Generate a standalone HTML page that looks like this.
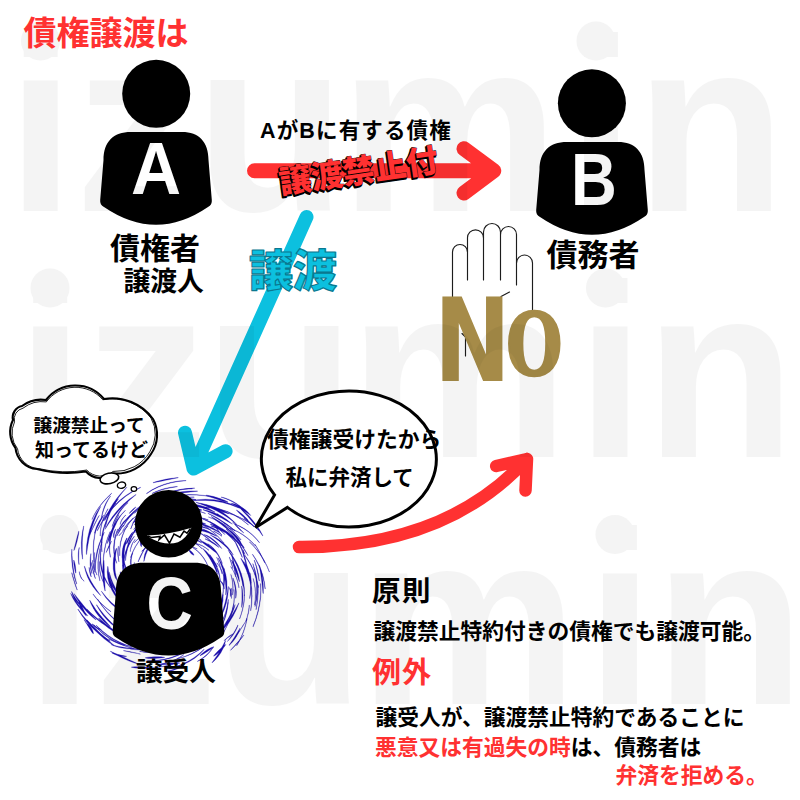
<!DOCTYPE html>
<html lang="ja">
<head>
<meta charset="utf-8">
<title>債権譲渡</title>
<style>
html,body{margin:0;padding:0;background:#fff;}
body{width:800px;height:800px;overflow:hidden;position:relative;}
svg{position:absolute;left:0;top:0;display:block;}
.jp{font-family:"Liberation Sans","Noto Sans CJK JP",sans-serif;}
.wm{font-family:"Liberation Sans",sans-serif;font-weight:700;font-size:247px;fill:#000;}
.b{font-weight:700;}
.red{fill:#ff3131;}
</style>
</head>
<body>
<svg width="800" height="800" viewBox="0 0 800 800" class="jp">
<defs>
<path id="body" d="M131,132 L182,132 C199,132 208.5,142 208.5,160 L211.8,200 Q212.3,205 208,207 Q156,242.5 104,207 Q99.7,205 100.2,200 L103.5,160 C103.5,142 113,132 131,132 Z"/>
</defs>
<rect width="800" height="800" fill="#ffffff"/>
<g id="swirl" fill="#1a0dab" stroke="#1a0dab" stroke-width="0.3" stroke-linejoin="round">
<path d="M100.7,548.7L99.9,556.1L100.2,563.3L101.4,570.2L103.5,576.7L106.6,582.6L110.4,587.8L110.6,587.7L107.2,582.2L104.4,576.3L102.3,570.0L101.1,563.2L100.6,556.1L101.0,548.7ZM99.1,515.4L97.5,518.3L95.9,521.3L94.3,524.5L92.7,527.9L91.1,531.3L89.5,534.9L89.7,535.0L91.4,531.4L93.0,528.0L94.6,524.7L96.2,521.5L97.7,518.4L99.3,515.5ZM111.5,493.3L107.1,497.5L103.1,501.8L99.6,506.2L96.6,510.6L94.0,515.0L91.9,519.4L92.1,519.5L94.2,515.1L96.8,510.7L99.9,506.3L103.4,502.0L107.3,497.7L111.7,493.4ZM197.2,548.8L193.8,547.2L190.3,546.1L186.8,545.5L183.2,545.5L179.7,546.0L176.4,547.0L176.5,547.3L179.8,546.5L183.2,546.1L186.7,546.1L190.2,546.6L193.7,547.6L197.1,549.0ZM119.8,516.5L116.9,520.7L114.5,525.1L112.6,529.5L111.2,534.0L110.2,538.4L109.7,542.8L109.9,542.9L110.7,538.5L111.9,534.2L113.4,529.8L115.2,525.4L117.4,521.0L120.0,516.6ZM241.0,542.7L239.9,540.4L238.5,538.3L236.8,536.2L234.8,534.2L232.6,532.3L230.2,530.6L230.0,530.8L231.8,533.1L233.7,535.3L235.5,537.3L237.3,539.3L239.0,541.1L240.8,542.8ZM173.4,532.7L170.2,533.3L167.0,534.0L163.8,534.9L160.7,535.8L157.6,536.8L154.7,537.8L154.7,538.0L157.8,537.3L160.9,536.5L164.0,535.6L167.2,534.7L170.3,533.8L173.5,532.9ZM151.5,510.1L147.8,512.3L144.4,514.6L141.3,517.0L138.6,519.6L136.3,522.2L134.3,524.9L134.5,525.0L136.5,522.4L138.9,519.9L141.6,517.3L144.6,514.9L147.9,512.5L151.6,510.3ZM146.6,613.6L152.4,614.4L158.0,614.5L163.1,613.9L167.7,612.6L171.8,610.8L175.1,608.6L175.0,608.4L171.7,610.6L167.7,612.3L163.1,613.6L157.9,614.2L152.4,614.2L146.6,613.4ZM135.3,582.4L136.9,584.9L138.6,587.0L140.5,588.9L142.6,590.3L144.7,591.4L146.9,592.2L146.9,592.0L144.8,591.2L142.8,590.0L140.8,588.6L138.9,586.8L137.1,584.7L135.5,582.3ZM185.5,643.1L188.8,641.4L191.7,639.6L194.4,637.7L196.9,635.8L199.2,633.9L201.1,631.8L201.0,631.6L198.5,632.9L196.0,634.5L193.4,636.3L190.8,638.3L188.1,640.5L185.4,642.9ZM183.0,607.8L186.8,604.7L189.8,601.2L191.9,597.6L193.2,593.9L193.4,590.4L192.8,587.2L192.6,587.3L192.7,590.4L192.3,593.7L191.0,597.2L189.1,600.7L186.3,604.2L182.8,607.6ZM166.1,630.7L171.7,629.6L177.1,627.8L182.2,625.3L186.8,622.2L190.9,618.4L194.6,614.2L194.4,614.1L190.7,618.1L186.5,621.7L181.9,624.8L176.9,627.3L171.6,629.2L166.0,630.4ZM132.0,533.1L130.8,534.4L129.8,535.9L128.8,537.6L127.9,539.6L127.1,541.7L126.5,544.1L126.7,544.1L127.8,542.0L128.8,540.0L129.7,538.1L130.6,536.4L131.4,534.8L132.2,533.2ZM101.8,541.7L99.9,548.6L98.6,555.4L97.9,562.1L97.9,568.6L98.6,574.9L99.8,580.8L100.0,580.8L98.8,574.8L98.3,568.6L98.3,562.1L98.9,555.4L100.2,548.6L102.1,541.8ZM156.3,495.1L153.4,496.3L150.5,497.8L147.6,499.6L144.8,501.7L142.0,504.2L139.3,506.9L139.5,507.0L142.5,504.7L145.4,502.5L148.2,500.4L151.0,498.6L153.7,496.9L156.4,495.3ZM84.0,619.8L85.4,622.1L86.9,624.3L88.3,626.5L89.7,628.8L91.2,631.0L92.6,633.2L92.8,633.1L91.5,630.8L90.2,628.5L88.8,626.2L87.3,624.0L85.8,621.8L84.2,619.7ZM195.9,522.2L191.1,521.1L186.5,520.5L182.0,520.6L177.7,521.3L173.7,522.5L169.9,524.3L170.0,524.5L173.7,522.8L177.8,521.7L182.0,521.0L186.4,520.9L191.1,521.3L195.8,522.4ZM120.1,581.3L122.2,585.5L124.5,589.6L127.0,593.5L129.8,597.0L132.8,600.4L135.8,603.5L135.9,603.3L132.9,600.2L130.0,596.9L127.3,593.3L124.7,589.5L122.3,585.4L120.3,581.2ZM224.8,580.7L224.3,577.7L223.4,574.7L222.3,571.7L220.8,568.7L219.0,565.7L217.0,562.8L216.8,562.9L218.9,565.8L220.6,568.8L222.0,571.8L223.2,574.8L224.1,577.7L224.6,580.7ZM245.9,562.1L245.4,559.8L244.8,557.6L244.3,555.5L243.9,553.6L243.5,551.7L243.1,549.9L242.8,550.0L242.9,551.8L243.2,553.7L243.6,555.7L244.1,557.8L244.8,560.0L245.7,562.2ZM224.2,640.7L225.8,639.4L227.4,638.1L229.0,636.9L230.6,635.8L232.2,634.8L233.7,633.9L233.6,633.7L232.0,634.4L230.3,635.3L228.7,636.4L227.1,637.7L225.6,639.0L224.1,640.6ZM145.0,548.0L143.4,550.5L141.9,553.0L140.6,555.4L139.6,557.7L138.7,559.9L138.0,561.8L138.2,561.9L139.1,560.0L140.1,558.0L141.2,555.7L142.4,553.3L143.7,550.7L145.2,548.1ZM119.5,628.2L121.5,629.3L123.7,630.3L125.9,631.2L128.2,632.0L130.6,632.8L133.2,633.4L133.3,633.2L131.0,632.0L128.6,630.9L126.3,630.0L124.1,629.1L121.9,628.4L119.6,627.9ZM228.7,513.5L224.3,511.1L219.9,509.1L215.3,507.3L210.7,505.8L206.1,504.5L201.5,503.6L201.4,503.8L205.8,505.6L210.2,507.2L214.7,508.9L219.3,510.5L223.9,512.2L228.6,513.7ZM200.3,590.0L200.9,588.7L201.5,587.5L202.1,586.4L202.8,585.3L203.5,584.2L204.2,583.2L204.0,583.1L203.1,584.0L202.3,584.9L201.6,586.1L201.0,587.3L200.5,588.5L200.1,589.9ZM162.5,507.3L157.3,508.8L152.4,510.8L147.9,513.3L143.7,516.3L140.0,519.6L136.8,523.3L137.0,523.4L140.8,520.4L144.7,517.5L148.8,514.8L153.1,512.2L157.7,509.8L162.5,507.6ZM140.5,645.2L142.7,646.2L144.8,647.0L146.8,647.7L148.7,648.4L150.5,648.9L152.3,649.4L152.4,649.2L150.8,648.1L149.1,647.2L147.2,646.5L145.2,645.8L143.0,645.3L140.6,645.0ZM236.8,524.4L233.7,521.2L230.3,518.2L226.6,515.3L222.7,512.6L218.6,510.1L214.2,507.7L214.1,507.9L218.2,510.7L222.2,513.4L226.0,516.1L229.7,518.9L233.2,521.7L236.6,524.5ZM77.8,609.2L82.1,616.0L87.0,622.3L92.3,628.0L97.9,633.1L103.9,637.5L110.1,641.3L110.2,641.1L104.4,636.8L98.7,632.2L93.2,627.0L87.9,621.5L82.8,615.5L78.0,609.1ZM197.5,661.4L200.5,659.9L203.4,658.0L206.0,655.9L208.5,653.6L210.7,651.0L212.7,648.2L212.5,648.0L210.4,650.7L208.1,653.2L205.6,655.5L203.1,657.6L200.3,659.5L197.4,661.2ZM222.0,535.0L220.7,533.6L219.5,532.0L218.3,530.4L217.2,528.8L216.1,527.1L215.1,525.3L214.8,525.4L215.7,527.3L216.7,529.1L217.8,530.8L219.1,532.4L220.4,533.8L221.8,535.2ZM235.5,542.1L231.0,536.7L225.9,531.9L220.5,527.7L214.7,524.1L208.7,521.1L202.6,518.8L202.5,519.0L208.4,521.7L214.2,524.9L219.9,528.5L225.3,532.6L230.5,537.2L235.3,542.3ZM78.8,602.2L79.4,604.7L80.3,607.1L81.5,609.4L82.9,611.8L84.4,614.0L86.3,616.1L86.5,616.0L85.4,613.4L84.2,611.0L83.0,608.6L81.7,606.4L80.4,604.2L79.0,602.1ZM131.3,623.2L136.2,625.4L141.2,626.8L146.1,627.7L150.9,627.9L155.3,627.6L159.5,626.6L159.4,626.4L155.2,626.7L150.9,626.7L146.3,626.4L141.5,625.6L136.5,624.5L131.3,623.0ZM186.8,543.0L184.9,542.3L183.2,541.5L181.6,540.8L180.1,540.0L178.8,539.3L177.7,538.5L177.6,538.7L178.7,539.5L180.0,540.3L181.4,541.0L183.1,541.8L184.8,542.5L186.7,543.2ZM122.5,564.7L122.7,569.1L123.4,573.2L124.5,577.1L126.1,580.7L128.1,584.0L130.5,586.9L130.7,586.7L128.3,583.8L126.3,580.6L124.8,577.0L123.6,573.2L122.9,569.1L122.8,564.7ZM201.4,641.0L203.0,640.0L204.4,638.6L205.5,637.1L206.3,635.4L206.8,633.5L206.9,631.6L206.7,631.5L205.9,633.3L205.2,634.9L204.4,636.5L203.5,637.9L202.4,639.4L201.2,640.8ZM255.3,545.6L251.5,541.5L247.4,537.9L243.1,534.7L238.6,532.0L234.0,529.8L229.3,528.0L229.2,528.2L233.9,530.0L238.5,532.3L242.9,535.0L247.2,538.2L251.3,541.7L255.1,545.7ZM236.8,645.7L239.3,641.2L241.6,636.6L243.5,632.1L245.0,627.5L246.2,622.9L247.1,618.4L246.8,618.3L246.0,622.9L244.7,627.4L243.2,632.0L241.3,636.5L239.1,641.1L236.6,645.5ZM259.5,542.5L256.2,538.5L252.5,534.8L248.6,531.5L244.3,528.6L239.8,526.1L235.0,524.0L234.9,524.2L239.6,526.4L244.1,528.9L248.3,531.8L252.3,535.1L256.0,538.7L259.3,542.7ZM235.0,638.4L236.9,635.3L238.9,632.3L240.9,629.1L242.9,626.0L244.9,622.8L247.0,619.6L246.8,619.5L244.8,622.7L242.7,625.8L240.7,629.0L238.7,632.1L236.7,635.2L234.8,638.3ZM112.2,653.2L114.6,654.3L117.0,655.2L119.4,655.8L121.7,656.3L124.1,656.5L126.5,656.4L126.5,656.2L124.2,655.8L121.9,655.3L119.6,654.8L117.2,654.3L114.8,653.6L112.3,652.9ZM131.0,567.2L131.7,571.3L132.7,575.1L134.1,578.6L135.7,581.7L137.6,584.5L139.6,586.8L139.7,586.7L138.0,584.2L136.4,581.4L134.8,578.3L133.4,574.8L132.2,571.1L131.3,567.1ZM136.0,494.4L129.2,499.2L123.0,504.6L117.4,510.4L112.5,516.5L108.3,522.8L104.9,529.2L105.1,529.3L109.0,523.3L113.4,517.2L118.4,511.3L123.8,505.5L129.8,499.9L136.2,494.6ZM149.6,648.8L156.3,648.6L162.8,647.9L169.0,646.7L174.9,645.0L180.4,643.0L185.5,640.6L185.4,640.3L180.2,642.3L174.6,644.1L168.8,645.7L162.6,647.0L156.2,648.0L149.6,648.6ZM140.4,523.1L135.7,528.6L131.9,534.6L128.9,541.0L126.9,547.5L125.7,554.1L125.3,560.5L125.6,560.6L126.4,554.2L127.8,547.7L129.9,541.3L132.7,535.0L136.3,529.0L140.6,523.2ZM78.7,531.3L77.8,534.6L76.9,537.8L76.1,541.0L75.3,544.2L74.5,547.3L73.8,550.4L74.0,550.5L75.2,547.5L76.2,544.4L77.1,541.3L77.8,538.1L78.5,534.8L79.0,531.4ZM244.5,595.9L244.4,588.1L243.2,580.4L241.1,572.9L238.1,565.6L234.3,558.8L229.7,552.4L229.5,552.5L233.7,559.1L237.3,566.0L240.2,573.2L242.3,580.6L243.7,588.2L244.3,595.9ZM217.1,553.1L214.4,550.0L211.6,547.4L208.7,545.1L205.8,543.1L202.9,541.5L200.1,540.4L200.0,540.6L202.3,542.5L204.9,544.4L207.7,546.4L210.6,548.6L213.6,550.9L216.9,553.3ZM221.1,627.3L223.3,623.1L225.0,618.7L226.4,614.0L227.4,609.3L228.1,604.4L228.4,599.5L228.1,599.5L227.6,604.3L226.7,609.1L225.7,613.8L224.3,618.4L222.8,622.9L220.9,627.2ZM239.1,587.8L238.5,584.4L237.6,580.8L236.4,577.3L234.9,573.7L233.0,570.2L230.9,566.6L230.7,566.7L232.9,570.3L234.7,573.9L236.2,577.4L237.4,580.9L238.3,584.4L238.9,587.8ZM161.6,608.3L165.4,608.4L169.0,608.1L172.2,607.5L175.2,606.5L177.8,605.2L179.9,603.6L179.7,603.4L177.5,604.7L174.9,605.8L172.0,606.7L168.9,607.4L165.4,607.9L161.6,608.0ZM120.1,571.9L120.3,574.4L120.8,576.8L121.7,579.0L123.0,580.9L124.5,582.5L126.4,583.8L126.5,583.6L125.0,582.0L123.7,580.3L122.6,578.5L121.7,576.5L121.0,574.3L120.4,571.8ZM106.4,520.4L104.3,525.6L102.7,530.9L101.7,536.2L101.2,541.5L101.3,546.7L101.8,551.8L102.1,551.8L101.9,546.7L102.1,541.6L102.7,536.4L103.6,531.1L104.9,525.8L106.6,520.5ZM228.0,502.0L224.7,500.3L221.1,498.9L217.5,497.7L213.8,496.6L210.0,495.7L206.1,495.1L206.1,495.3L209.7,496.8L213.4,498.1L217.0,499.3L220.6,500.4L224.3,501.4L228.0,502.2ZM232.5,523.9L229.7,522.2L227.0,520.4L224.5,518.7L222.0,517.0L219.6,515.4L217.4,513.8L217.2,514.0L219.5,515.6L221.8,517.3L224.3,519.0L226.8,520.7L229.5,522.4L232.3,524.1ZM160.3,517.9L157.4,518.3L154.6,519.2L152.1,520.4L150.0,521.8L148.1,523.5L146.7,525.5L146.9,525.6L148.9,524.4L150.9,523.1L153.0,521.9L155.3,520.6L157.8,519.4L160.4,518.1ZM194.2,497.0L191.6,496.9L189.2,497.1L187.0,497.5L184.9,498.3L183.0,499.3L181.3,500.6L181.4,500.8L183.2,499.7L185.1,498.8L187.1,498.1L189.3,497.6L191.7,497.3L194.2,497.2ZM120.8,573.3L121.9,578.4L123.8,583.2L126.3,587.8L129.5,592.0L133.1,595.8L137.3,599.1L137.4,598.9L133.8,595.2L130.4,591.2L127.4,587.1L124.8,582.7L122.7,578.1L121.0,573.3ZM243.3,586.2L242.3,579.5L240.7,573.0L238.4,566.8L235.6,560.9L232.2,555.3L228.3,550.2L228.2,550.3L231.6,555.7L234.7,561.3L237.5,567.2L239.8,573.3L241.7,579.7L243.0,586.2ZM191.6,616.8L193.4,615.5L195.0,613.9L196.3,612.0L197.2,609.9L197.8,607.5L198.0,605.0L197.8,605.0L197.0,607.3L196.1,609.5L195.1,611.4L194.0,613.2L192.8,614.9L191.4,616.6ZM178.2,477.5L173.9,478.0L169.6,478.6L165.4,479.3L161.2,480.3L157.1,481.3L153.1,482.5L153.1,482.8L157.2,482.0L161.4,481.2L165.6,480.3L169.8,479.5L174.0,478.6L178.2,477.8ZM123.5,525.0L122.1,526.5L120.8,528.2L119.6,530.0L118.5,531.9L117.5,533.9L116.5,536.1L116.8,536.2L117.9,534.2L119.1,532.3L120.3,530.4L121.4,528.6L122.5,526.9L123.7,525.2ZM192.8,640.0L195.1,638.3L197.3,636.4L199.3,634.3L201.1,632.0L202.8,629.4L204.3,626.7L204.1,626.6L202.6,629.3L200.9,631.8L199.1,634.1L197.1,636.2L195.0,638.1L192.7,639.8ZM248.4,524.7L241.8,519.4L234.9,515.1L227.7,511.6L220.4,509.2L212.9,507.6L205.5,507.0L205.5,507.2L212.9,507.9L220.3,509.5L227.6,512.0L234.7,515.4L241.7,519.7L248.3,524.9ZM186.1,480.5L178.5,481.0L171.3,482.3L164.4,484.2L157.9,486.7L151.9,489.8L146.4,493.5L146.6,493.7L152.1,490.2L158.1,487.2L164.5,484.7L171.4,482.8L178.6,481.4L186.1,480.7ZM93.7,624.7L98.2,629.6L103.1,634.0L108.2,637.7L113.5,640.9L118.9,643.4L124.5,645.3L124.6,645.1L119.1,643.0L113.7,640.4L108.5,637.2L103.4,633.5L98.5,629.3L93.8,624.6ZM248.3,520.5L246.8,518.6L245.0,516.8L243.2,515.0L241.1,513.3L238.9,511.6L236.5,509.9L236.3,510.1L238.3,512.2L240.3,514.2L242.3,516.0L244.2,517.7L246.2,519.3L248.1,520.7ZM198.2,637.9L200.1,636.6L202.0,635.3L203.7,633.9L205.4,632.6L207.1,631.2L208.7,629.8L208.6,629.6L206.8,630.8L205.0,632.0L203.2,633.3L201.5,634.7L199.8,636.1L198.1,637.7ZM258.6,587.6L257.4,581.6L255.7,575.7L253.6,570.1L251.1,564.8L248.1,559.8L244.8,555.1L244.6,555.3L247.7,560.0L250.6,565.0L253.1,570.3L255.2,575.9L257.0,581.7L258.4,587.7ZM259.3,581.0L258.9,577.3L258.4,573.8L257.6,570.2L256.7,566.8L255.6,563.4L254.4,560.1L254.2,560.2L255.2,563.5L256.2,566.9L257.0,570.4L257.8,573.9L258.5,577.4L259.1,581.0ZM269.5,571.9L267.0,565.9L264.1,560.3L260.9,555.0L257.3,550.2L253.5,545.8L249.5,541.8L249.4,541.9L253.4,545.9L257.1,550.4L260.6,555.2L263.8,560.4L266.8,566.0L269.3,572.0ZM71.8,549.3L71.5,555.4L71.8,561.4L72.4,567.3L73.4,573.1L74.8,578.7L76.6,584.1L76.8,584.0L75.3,578.5L74.1,572.9L73.2,567.2L72.5,561.3L72.1,555.4L72.0,549.3ZM114.7,635.0L118.2,636.8L122.0,638.3L126.0,639.6L130.1,640.7L134.4,641.6L138.8,642.3L138.9,642.1L134.5,641.0L130.3,639.8L126.3,638.7L122.3,637.4L118.5,636.1L114.8,634.8ZM107.9,508.8L105.6,513.0L103.6,517.4L102.1,521.9L101.0,526.5L100.3,531.2L100.0,536.0L100.3,536.0L100.5,531.2L101.3,526.5L102.4,521.9L103.9,517.5L105.8,513.1L108.1,508.9ZM209.8,572.1L208.5,567.2L206.5,562.4L203.9,558.0L200.8,554.1L197.2,550.6L193.2,547.7L193.1,547.9L197.0,550.8L200.5,554.3L203.6,558.3L206.2,562.6L208.2,567.2L209.6,572.2ZM240.6,545.8L236.8,540.4L232.3,535.8L227.4,531.8L222.0,528.4L216.3,525.8L210.3,524.1L210.2,524.3L215.8,526.9L221.2,529.8L226.4,533.2L231.3,537.0L236.0,541.2L240.4,545.9ZM133.5,595.0L134.9,596.2L136.3,597.1L137.9,597.8L139.5,598.2L141.1,598.4L142.7,598.3L142.7,598.1L141.1,598.0L139.6,597.7L138.1,597.2L136.6,596.6L135.1,595.8L133.6,594.8ZM133.1,513.0L129.5,515.8L126.2,518.9L123.3,522.1L120.8,525.5L118.7,529.1L117.1,532.7L117.3,532.8L119.3,529.4L121.6,526.1L124.1,522.8L126.9,519.5L129.9,516.3L133.2,513.1ZM227.4,641.6L230.0,638.8L232.3,636.1L234.2,633.3L235.8,630.5L237.1,627.8L238.0,625.2L237.8,625.1L236.6,627.6L235.2,630.2L233.6,632.9L231.7,635.6L229.6,638.5L227.3,641.5ZM111.0,644.6L114.6,646.1L118.4,647.3L122.3,648.1L126.2,648.6L130.2,648.7L134.3,648.4L134.3,648.2L130.3,648.0L126.3,647.7L122.4,647.1L118.6,646.4L114.8,645.5L111.0,644.4ZM173.1,635.5L180.0,633.3L186.4,630.4L192.4,626.9L197.7,622.9L202.5,618.6L206.4,614.1L206.3,613.9L201.8,618.0L197.0,622.0L191.7,625.8L185.9,629.3L179.6,632.5L173.1,635.3ZM205.6,589.4L206.1,587.0L206.1,584.6L205.8,582.0L205.0,579.4L204.0,576.8L202.5,574.3L202.3,574.4L203.3,577.1L204.2,579.7L204.8,582.2L205.2,584.6L205.4,587.0L205.4,589.4ZM171.2,514.4L164.5,515.5L158.1,517.2L152.1,519.6L146.5,522.5L141.6,526.0L137.1,529.9L137.3,530.1L141.7,526.3L146.7,522.9L152.3,520.0L158.2,517.6L164.6,515.8L171.3,514.7ZM187.4,646.2L191.1,644.4L194.7,642.3L198.1,640.1L201.4,637.7L204.4,635.2L207.3,632.5L207.1,632.3L203.7,634.2L200.4,636.4L197.1,638.7L193.8,641.0L190.5,643.4L187.3,646.0ZM200.9,510.6L193.7,509.8L186.6,509.8L179.7,510.4L173.2,511.7L167.0,513.6L161.3,515.9L161.4,516.2L167.2,514.1L173.3,512.4L179.8,511.2L186.6,510.5L193.6,510.4L200.9,510.8ZM130.3,649.1L136.0,649.8L141.6,650.0L147.1,649.8L152.4,649.2L157.6,648.1L162.5,646.7L162.4,646.4L157.5,647.8L152.4,648.8L147.1,649.4L141.6,649.7L136.0,649.5L130.3,648.8ZM201.8,542.9L200.6,541.7L199.2,540.8L197.8,540.1L196.3,539.6L194.9,539.4L193.4,539.5L193.4,539.7L194.8,540.1L196.1,540.5L197.4,541.0L198.8,541.6L200.2,542.3L201.7,543.1ZM202.0,510.0L200.2,509.2L198.4,508.8L196.6,508.5L194.9,508.4L193.2,508.6L191.5,509.1L191.5,509.3L193.2,509.5L194.8,509.6L196.5,509.8L198.2,509.9L200.0,510.1L201.9,510.2ZM175.7,500.9L171.7,502.0L167.8,503.5L164.0,505.2L160.4,507.2L156.8,509.4L153.4,511.9L153.6,512.1L157.0,509.7L160.6,507.5L164.2,505.5L168.0,503.8L171.8,502.3L175.8,501.1ZM219.3,619.7L222.2,614.4L224.5,608.9L226.3,603.2L227.5,597.6L228.2,592.0L228.4,586.5L228.2,586.5L227.4,591.9L226.3,597.3L225.0,602.9L223.3,608.5L221.3,614.0L219.1,619.6ZM116.9,612.4L123.2,616.1L129.6,619.1L135.9,621.2L142.0,622.5L147.8,623.1L153.1,623.1L153.1,622.8L147.8,622.9L142.1,622.2L136.0,620.8L129.7,618.7L123.4,615.9L117.0,612.2ZM152.6,542.4L149.9,544.9L147.7,547.8L146.0,550.9L144.7,554.3L144.0,557.8L143.8,561.4L144.0,561.4L144.9,558.0L145.9,554.7L147.2,551.5L148.7,548.4L150.6,545.5L152.7,542.6ZM209.6,509.0L204.5,506.8L199.3,505.2L193.9,504.3L188.5,504.1L183.2,504.4L177.9,505.6L178.0,505.8L183.3,505.6L188.5,505.6L193.8,506.0L199.0,506.8L204.2,507.9L209.5,509.2ZM191.8,609.5L194.1,608.1L196.2,606.3L198.2,604.1L200.1,601.6L201.9,598.8L203.3,595.7L203.1,595.6L200.9,598.2L198.9,600.7L196.9,603.0L195.1,605.2L193.3,607.3L191.6,609.3ZM187.7,499.8L185.3,499.2L182.7,498.8L179.9,498.5L177.1,498.3L174.1,498.2L171.0,498.4L171.0,498.6L174.0,499.1L177.0,499.5L179.8,499.8L182.6,500.0L185.2,500.1L187.7,500.0ZM147.7,544.9L146.6,546.1L145.5,547.2L144.5,548.3L143.6,549.3L142.6,550.3L141.7,551.3L141.9,551.5L143.0,550.7L144.1,549.8L145.1,548.8L146.1,547.7L147.0,546.4L147.9,545.1ZM177.3,486.4L172.7,486.9L168.3,487.7L163.9,488.7L159.8,490.0L155.8,491.6L152.1,493.3L152.2,493.6L156.0,492.0L160.0,490.6L164.1,489.3L168.4,488.3L172.8,487.4L177.4,486.7ZM154.7,499.4L149.1,503.0L144.0,507.3L139.6,512.0L135.9,517.2L132.9,522.9L130.6,528.8L130.9,528.9L133.4,523.1L136.5,517.6L140.2,512.5L144.5,507.8L149.4,503.5L154.9,499.6ZM235.7,576.6L235.4,572.7L235.0,569.0L234.4,565.4L233.8,561.9L232.9,558.6L232.0,555.5L231.8,555.6L232.4,558.8L233.0,562.1L233.7,565.5L234.3,569.1L234.9,572.8L235.5,576.6ZM149.7,501.3L143.6,504.6L138.0,508.3L133.2,512.4L129.1,516.8L125.7,521.5L123.1,526.4L123.3,526.5L126.2,521.8L129.6,517.3L133.8,513.0L138.5,508.9L143.9,505.0L149.8,501.5ZM134.2,536.3L131.2,540.2L128.7,544.3L126.7,548.5L125.1,552.7L124.1,557.0L123.6,561.1L123.9,561.1L124.7,557.1L125.8,553.0L127.4,548.8L129.3,544.7L131.7,540.5L134.4,536.4ZM217.0,616.4L219.1,611.2L220.7,606.2L222.0,601.2L222.8,596.4L223.3,591.8L223.4,587.5L223.2,587.5L223.0,591.8L222.5,596.4L221.6,601.1L220.4,606.1L218.8,611.2L216.8,616.3ZM133.5,579.2L134.9,583.0L136.7,586.5L138.7,589.5L141.0,592.0L143.5,594.0L146.1,595.5L146.2,595.3L143.7,593.8L141.3,591.8L139.0,589.2L137.0,586.3L135.2,582.9L133.7,579.1ZM157.0,518.8L152.6,520.7L148.5,522.8L144.9,525.3L141.7,528.1L138.9,531.1L136.6,534.2L136.8,534.4L139.1,531.3L141.9,528.3L145.1,525.6L148.7,523.1L152.7,520.9L157.1,519.0ZM100.5,506.4L96.0,513.7L92.4,521.5L89.6,529.5L87.7,537.8L86.5,546.1L86.3,554.4L86.6,554.4L87.7,546.2L89.2,538.1L91.3,530.0L93.9,522.0L97.0,514.2L100.7,506.5ZM245.1,554.3L242.8,549.9L240.2,545.5L237.2,541.2L233.9,537.0L230.3,533.0L226.4,529.1L226.2,529.2L230.1,533.1L233.7,537.2L237.0,541.4L239.9,545.7L242.6,550.0L244.9,554.4ZM194.6,488.0L187.1,488.6L180.0,489.6L173.2,491.2L166.9,493.2L161.0,495.6L155.5,498.4L155.6,498.6L161.0,495.8L167.0,493.5L173.3,491.5L180.1,489.9L187.2,488.8L194.6,488.2ZM135.0,580.8L136.1,583.2L137.4,585.5L138.8,587.7L140.5,589.8L142.3,591.8L144.2,593.6L144.4,593.5L143.0,591.3L141.4,589.1L139.9,587.0L138.3,584.9L136.8,582.8L135.2,580.7ZM178.7,506.0L175.9,506.2L173.1,506.9L170.4,507.8L167.9,509.0L165.5,510.4L163.4,512.2L163.5,512.4L166.1,511.4L168.6,510.4L171.1,509.4L173.6,508.3L176.2,507.3L178.8,506.2ZM214.7,637.2L220.0,632.9L224.8,627.8L229.2,622.3L233.0,616.2L236.3,609.8L239.0,603.0L238.8,602.9L235.3,609.3L231.7,615.4L227.8,621.3L223.6,626.8L219.2,632.1L214.6,637.1ZM139.5,614.0L143.8,615.5L148.2,616.5L152.7,616.8L157.2,616.5L161.6,615.6L165.9,614.1L165.8,613.9L161.5,615.0L157.1,615.8L152.7,616.0L148.3,615.8L143.9,615.0L139.6,613.8ZM79.2,571.7L79.5,573.7L80.0,575.5L80.7,577.2L81.6,578.8L82.8,580.1L84.1,581.3L84.2,581.1L83.0,579.9L81.9,578.6L81.1,577.1L80.4,575.4L79.8,573.6L79.4,571.7ZM91.3,562.6L91.7,565.5L92.3,568.4L92.9,571.1L93.6,573.7L94.4,576.2L95.3,578.6L95.5,578.5L94.8,576.1L94.2,573.5L93.5,570.9L92.8,568.2L92.1,565.5L91.5,562.6ZM248.5,573.6L247.4,567.6L246.0,561.6L244.2,555.7L242.0,549.8L239.4,544.1L236.6,538.5L236.4,538.6L239.3,544.2L241.7,549.9L243.9,555.8L245.7,561.7L247.2,567.7L248.2,573.7ZM101.3,591.3L105.8,597.8L110.9,603.6L116.6,608.6L122.6,612.7L128.8,616.0L135.1,618.4L135.2,618.1L129.2,615.2L123.2,611.7L117.4,607.5L111.7,602.7L106.4,597.2L101.5,591.2ZM145.3,658.0L148.2,658.4L151.3,658.5L154.4,658.4L157.7,658.3L161.1,658.0L164.6,657.5L164.6,657.2L161.0,656.8L157.6,656.7L154.3,656.7L151.2,656.9L148.2,657.2L145.3,657.8ZM127.0,538.2L125.3,540.9L124.0,543.9L123.0,547.1L122.4,550.6L122.1,554.1L122.2,557.8L122.4,557.9L122.8,554.2L123.3,550.7L124.0,547.4L124.9,544.2L125.9,541.2L127.2,538.3ZM246.1,620.9L247.1,617.9L247.9,615.1L248.6,612.4L249.0,609.8L249.2,607.4L249.4,605.2L249.1,605.2L249.0,607.4L248.7,609.8L248.3,612.3L247.6,615.0L246.9,617.9L245.9,620.8ZM155.9,497.8L152.2,499.9L148.5,502.2L144.9,504.6L141.3,507.3L137.9,510.2L134.5,513.1L134.6,513.3L138.0,510.3L141.5,507.5L145.1,504.9L148.7,502.4L152.3,500.1L156.0,498.0ZM135.0,539.3L133.7,541.2L132.5,543.1L131.6,545.1L130.9,547.2L130.4,549.4L130.2,551.6L130.4,551.6L130.6,549.4L131.2,547.3L131.9,545.2L132.7,543.2L133.8,541.3L135.2,539.5ZM175.7,619.3L177.8,618.8L179.9,618.1L182.1,617.2L184.2,616.1L186.4,614.8L188.5,613.4L188.4,613.2L186.1,614.4L183.9,615.4L181.7,616.5L179.6,617.4L177.6,618.3L175.6,619.0ZM229.1,645.4L231.6,643.0L233.8,640.5L235.7,637.7L237.4,634.7L238.9,631.7L240.1,628.4L239.9,628.3L238.1,631.3L236.4,634.1L234.6,637.0L232.8,639.8L230.9,642.5L228.9,645.2ZM239.5,581.7L239.0,577.4L238.0,573.4L236.8,569.6L235.3,566.1L233.6,562.9L231.6,560.0L231.4,560.1L232.6,563.4L233.9,566.7L235.2,570.2L236.5,573.9L237.9,577.7L239.3,581.7ZM250.9,584.4L250.7,580.3L250.2,576.4L249.3,572.5L248.2,568.8L246.7,565.2L244.9,561.8L244.7,561.9L245.9,565.5L247.0,569.1L248.1,572.8L249.0,576.6L249.8,580.4L250.6,584.4ZM141.1,622.8L143.8,624.3L146.6,625.5L149.3,626.5L151.9,627.3L154.5,628.0L156.9,628.4L157.0,628.2L154.7,627.1L152.3,626.2L149.7,625.2L147.0,624.3L144.2,623.4L141.2,622.6ZM110.4,651.5L115.0,654.3L119.8,656.8L124.5,659.0L129.2,661.0L133.9,662.8L138.6,664.3L138.7,664.1L134.3,662.0L129.7,659.9L125.0,657.8L120.3,655.7L115.5,653.5L110.5,651.2ZM262.9,535.8L260.1,530.6L256.7,525.5L252.9,520.6L248.8,515.8L244.2,511.3L239.2,506.9L239.0,507.1L243.5,511.9L247.9,516.6L251.9,521.4L255.8,526.2L259.3,531.1L262.7,535.9ZM116.4,548.1L114.6,553.3L113.6,558.5L113.2,563.8L113.3,568.9L114.1,573.9L115.5,578.5L115.7,578.4L115.2,573.7L114.9,568.8L114.9,563.8L115.2,558.7L115.8,553.5L116.6,548.2ZM217.4,567.0L216.5,565.0L215.4,562.9L214.2,560.9L212.9,558.8L211.4,556.7L209.9,554.6L209.7,554.7L210.9,557.0L212.1,559.3L213.3,561.4L214.6,563.4L215.9,565.3L217.2,567.1ZM123.5,650.8L126.5,651.3L129.5,651.9L132.3,652.5L135.1,653.0L137.7,653.6L140.3,654.2L140.3,654.0L137.8,653.4L135.1,652.8L132.4,652.2L129.5,651.6L126.6,651.1L123.6,650.6ZM116.2,549.2L114.4,555.0L113.6,561.0L113.6,566.8L114.4,572.6L116.0,578.2L118.3,583.4L118.6,583.3L116.6,577.9L115.3,572.4L114.6,566.8L114.5,561.0L115.1,555.2L116.4,549.3ZM183.3,507.5L175.6,509.3L168.4,512.0L161.8,515.4L155.8,519.5L150.6,524.1L146.0,529.2L146.2,529.4L150.8,524.3L156.1,519.8L162.0,515.7L168.6,512.3L175.7,509.6L183.4,507.8ZM196.0,499.6L194.0,499.1L191.8,498.8L189.4,498.5L186.8,498.4L184.2,498.4L181.3,498.6L181.3,498.8L184.1,499.0L186.8,499.2L189.3,499.3L191.7,499.5L193.9,499.7L196.0,499.9ZM128.7,601.6L130.8,603.7L133.1,605.7L135.5,607.4L138.0,608.9L140.6,610.1L143.3,611.1L143.4,610.9L140.7,609.9L138.2,608.6L135.7,607.1L133.3,605.4L131.0,603.5L128.9,601.4ZM70.6,593.5L72.7,597.9L75.1,602.1L77.9,606.0L80.9,609.6L84.2,612.9L87.7,615.8L87.9,615.7L84.8,612.3L81.8,608.8L78.9,605.2L76.1,601.4L73.4,597.5L70.8,593.4ZM216.6,536.0L212.7,533.6L208.6,531.7L204.4,530.3L200.2,529.2L196.0,528.6L191.8,528.5L191.7,528.7L195.8,529.5L199.9,530.4L204.1,531.5L208.2,532.8L212.3,534.4L216.5,536.2ZM235.2,531.0L231.2,527.4L226.9,524.1L222.3,521.0L217.7,518.1L212.9,515.5L208.0,513.2L207.9,513.4L212.6,516.0L217.3,518.8L221.9,521.7L226.4,524.7L230.8,527.8L235.1,531.2ZM93.4,608.1L95.6,611.9L98.2,615.4L100.9,618.6L103.8,621.6L106.9,624.3L110.2,626.7L110.4,626.5L107.7,623.5L105.0,620.5L102.2,617.5L99.4,614.4L96.5,611.2L93.5,608.0ZM199.8,604.9L201.6,602.1L203.3,599.2L204.7,596.2L206.1,593.1L207.2,590.0L208.2,587.0L208.0,586.9L206.7,589.8L205.4,592.8L204.0,595.8L202.6,598.9L201.1,601.9L199.6,604.8ZM208.9,550.1L205.7,547.7L202.6,545.8L199.5,544.4L196.4,543.5L193.4,543.2L190.5,543.4L190.5,543.7L193.4,543.5L196.3,543.9L199.3,544.7L202.4,546.1L205.6,547.9L208.7,550.3ZM108.6,639.1L113.8,641.6L118.8,643.8L123.9,645.7L128.9,647.3L133.8,648.6L138.5,649.6L138.6,649.3L133.8,648.3L129.0,646.9L124.0,645.3L119.0,643.5L113.9,641.3L108.7,638.8ZM234.8,530.2L232.7,528.7L230.7,527.3L228.8,526.0L227.0,524.9L225.4,523.9L223.8,522.9L223.7,523.2L225.3,524.1L226.9,525.1L228.7,526.3L230.6,527.5L232.6,528.9L234.6,530.4ZM148.0,644.0L154.2,644.9L160.3,645.5L166.1,645.6L171.7,645.3L177.0,644.6L182.0,643.6L182.0,643.4L177.0,644.4L171.7,645.0L166.1,645.2L160.3,645.1L154.3,644.6L148.1,643.7ZM111.2,541.3L110.3,543.0L109.4,544.8L108.5,546.6L107.7,548.5L106.9,550.4L106.1,552.3L106.3,552.4L107.3,550.5L108.2,548.7L109.1,546.9L109.9,545.1L110.7,543.2L111.4,541.4ZM71.5,591.6L72.5,594.9L73.9,597.9L75.7,600.7L77.8,603.3L80.2,605.6L82.9,607.6L83.1,607.5L80.9,605.0L78.7,602.5L76.8,600.0L75.0,597.3L73.3,594.5L71.7,591.5ZM204.2,639.5L208.9,633.4L212.7,626.9L215.7,620.2L217.8,613.4L219.1,606.5L219.6,599.8L219.3,599.7L218.8,606.5L217.5,613.3L215.3,620.1L212.4,626.8L208.6,633.2L204.0,639.3ZM110.4,495.9L108.0,499.4L105.9,503.0L104.2,506.8L102.9,510.7L101.9,514.7L101.2,518.8L101.5,518.9L102.3,514.8L103.4,510.9L104.8,507.0L106.4,503.2L108.4,499.6L110.6,496.0ZM152.3,528.7L147.3,532.3L142.7,536.5L138.8,541.2L135.4,546.4L132.7,551.8L130.5,557.5L130.8,557.6L132.9,551.9L135.7,546.5L139.0,541.4L142.9,536.7L147.4,532.5L152.4,528.9ZM151.3,530.4L149.1,532.1L147.0,534.1L145.3,536.3L143.8,538.8L142.6,541.4L141.7,544.2L141.9,544.3L143.2,541.7L144.6,539.2L146.1,536.9L147.7,534.7L149.5,532.6L151.5,530.6ZM133.1,518.0L128.6,523.5L124.9,529.5L122.2,535.7L120.4,542.3L119.6,549.0L119.7,555.8L119.9,555.8L119.9,549.1L120.8,542.4L122.6,535.9L125.2,529.6L128.8,523.7L133.3,518.2ZM177.2,627.5L179.4,626.6L181.6,625.6L184.0,624.4L186.3,623.1L188.8,621.7L191.3,620.1L191.1,619.9L188.5,621.2L186.0,622.5L183.6,623.7L181.3,625.0L179.1,626.1L177.1,627.3ZM92.6,560.3L92.7,562.5L92.9,564.6L93.3,566.7L93.7,568.7L94.3,570.6L95.0,572.5L95.2,572.4L94.7,570.5L94.3,568.6L93.9,566.6L93.5,564.5L93.1,562.5L92.8,560.3ZM210.0,642.5L216.1,637.0L221.4,631.1L225.9,624.7L229.4,618.0L232.1,611.0L233.9,604.0L233.7,603.9L231.9,611.0L229.1,617.8L225.5,624.5L221.1,630.9L215.9,636.9L209.9,642.4ZM212.6,542.7L207.9,538.1L202.8,534.2L197.4,531.2L191.9,528.9L186.3,527.6L180.9,527.1L180.8,527.3L186.2,528.1L191.6,529.6L197.1,531.9L202.4,534.8L207.5,538.5L212.4,542.8ZM194.0,555.1L193.5,553.9L192.8,552.9L192.0,552.0L191.1,551.2L190.2,550.4L189.1,549.9L188.9,550.0L189.3,551.2L190.0,552.2L190.7,553.2L191.6,554.0L192.6,554.7L193.9,555.3ZM84.3,566.3L85.6,571.6L87.5,576.9L90.0,581.9L93.0,586.7L96.5,591.3L100.5,595.5L100.7,595.4L97.2,590.7L94.0,586.1L91.1,581.3L88.6,576.4L86.4,571.4L84.6,566.2ZM104.1,532.4L101.2,538.5L98.8,544.7L97.0,551.0L95.8,557.3L95.1,563.6L94.9,569.7L95.2,569.8L95.6,563.6L96.5,557.4L97.8,551.1L99.5,544.9L101.7,538.7L104.3,532.5ZM192.3,488.6L188.7,488.6L185.3,488.8L182.0,489.2L178.9,489.8L176.0,490.5L173.2,491.5L173.3,491.7L176.1,490.8L179.0,490.1L182.1,489.6L185.3,489.2L188.7,488.9L192.3,488.9ZM186.8,631.7L193.2,628.7L199.3,624.8L204.8,620.1L209.9,614.8L214.3,609.0L218.0,602.7L217.8,602.6L213.8,608.7L209.3,614.4L204.3,619.6L198.8,624.2L193.0,628.2L186.7,631.5ZM220.4,580.6L219.9,576.7L219.2,573.1L218.2,569.7L216.9,566.7L215.4,563.9L213.7,561.6L213.5,561.7L214.9,564.2L216.3,567.0L217.4,570.0L218.5,573.3L219.4,576.8L220.1,580.7ZM197.8,599.6L198.8,597.9L199.7,596.0L200.6,594.0L201.3,591.9L202.0,589.7L202.6,587.4L202.4,587.3L201.4,589.5L200.5,591.6L199.6,593.7L198.9,595.7L198.2,597.6L197.5,599.5ZM149.9,621.5L151.5,622.1L153.3,622.6L155.1,623.0L157.1,623.4L159.1,623.8L161.2,624.1L161.3,623.9L159.3,623.1L157.3,622.5L155.4,622.1L153.5,621.7L151.7,621.4L149.9,621.3ZM115.7,503.0L112.1,507.1L108.7,511.5L105.4,516.0L102.5,520.7L99.7,525.6L97.1,530.6L97.4,530.8L100.0,525.8L102.8,520.9L105.8,516.2L108.9,511.7L112.3,507.3L115.9,503.2ZM256.2,609.5L257.0,604.9L257.6,600.5L258.0,596.2L258.2,592.2L258.2,588.3L258.0,584.7L257.8,584.7L257.9,588.3L257.8,592.2L257.6,596.2L257.2,600.5L256.7,604.9L255.9,609.5ZM170.7,526.5L166.2,526.8L161.9,527.8L157.8,529.4L153.8,531.4L150.2,533.9L146.9,536.9L147.0,537.1L150.7,534.7L154.4,532.5L158.3,530.6L162.3,529.0L166.4,527.7L170.7,526.7ZM171.3,613.6L176.1,612.5L180.7,610.7L184.9,608.4L188.7,605.6L192.0,602.4L194.7,598.8L194.6,598.6L191.6,602.0L188.2,605.0L184.4,607.8L180.4,610.1L176.0,611.9L171.3,613.3ZM126.7,487.2L121.7,492.4L117.2,497.8L113.2,503.4L109.8,509.1L107.0,514.7L104.7,520.4L104.9,520.5L107.6,515.0L110.6,509.5L114.1,503.9L117.9,498.4L122.2,492.8L126.9,487.3ZM173.2,652.6L177.8,650.5L182.1,648.4L186.0,646.1L189.6,643.7L192.8,641.3L195.6,638.8L195.4,638.6L192.5,641.0L189.3,643.3L185.7,645.6L181.8,647.9L177.6,650.2L173.1,652.4ZM123.9,548.8L122.6,555.4L122.5,562.0L123.4,568.5L125.2,574.6L127.9,580.4L131.3,585.6L131.5,585.4L128.5,580.0L126.1,574.3L124.3,568.2L123.4,561.9L123.3,555.4L124.1,548.8ZM230.5,522.7L226.7,519.5L222.4,516.7L217.9,514.3L213.1,512.3L208.1,510.7L203.0,509.6L202.9,509.8L207.8,511.8L212.5,513.8L217.1,515.9L221.6,518.1L226.0,520.5L230.4,522.9ZM133.5,594.6L134.9,596.5L136.6,597.9L138.3,599.0L140.0,599.7L141.6,600.0L143.1,599.9L143.2,599.6L141.9,598.9L140.5,598.2L139.1,597.5L137.4,596.6L135.7,595.6L133.6,594.5ZM113.2,586.3L114.4,589.4L116.0,592.4L117.9,595.4L120.1,598.3L122.5,601.1L125.2,603.8L125.4,603.6L123.2,600.5L121.0,597.6L119.0,594.7L117.0,591.8L115.2,589.0L113.4,586.2ZM127.4,612.0L129.2,613.1L131.1,614.1L133.3,615.0L135.6,615.9L138.1,616.7L140.8,617.5L140.9,617.2L138.3,616.3L135.8,615.4L133.5,614.5L131.4,613.6L129.4,612.7L127.5,611.8ZM164.9,499.3L159.9,500.7L155.2,502.5L150.9,504.7L146.9,507.1L143.4,509.7L140.3,512.6L140.5,512.8L143.9,510.4L147.6,508.1L151.5,505.8L155.7,503.6L160.2,501.6L165.0,499.5ZM207.5,629.4L212.6,624.2L216.7,618.6L219.8,612.7L221.9,606.6L223.1,600.6L223.0,594.8L222.8,594.8L221.9,600.4L220.4,606.2L218.3,612.0L215.3,617.8L211.7,623.5L207.3,629.2ZM217.6,574.4L216.5,569.0L214.6,563.9L212.3,559.3L209.5,555.1L206.4,551.4L202.9,548.5L202.7,548.6L205.5,552.2L208.2,556.0L210.8,560.1L213.2,564.6L215.4,569.4L217.4,574.4ZM254.6,605.1L255.3,600.6L255.6,596.1L255.5,591.7L255.1,587.2L254.4,582.9L253.3,578.6L253.1,578.6L254.2,582.9L254.9,587.3L255.3,591.7L255.3,596.1L255.1,600.6L254.4,605.1ZM181.8,621.8L184.9,620.4L187.7,618.7L190.1,616.7L192.1,614.7L193.6,612.5L194.7,610.2L194.5,610.0L192.9,611.9L191.2,613.9L189.2,615.8L186.9,617.7L184.4,619.6L181.7,621.6ZM159.7,516.4L154.7,518.2L150.0,520.3L145.7,522.9L141.9,525.9L138.5,529.2L135.7,532.8L135.8,532.9L138.8,529.4L142.2,526.1L146.0,523.2L150.2,520.6L154.8,518.4L159.8,516.6ZM216.8,629.3L219.7,625.2L222.3,621.0L224.4,616.5L226.0,611.9L227.3,607.3L228.1,602.5L227.9,602.5L227.1,607.2L225.8,611.9L224.1,616.4L222.0,620.8L219.5,625.1L216.6,629.2ZM224.2,589.1L224.3,587.4L224.0,585.7L223.4,584.2L222.6,582.8L221.4,581.6L220.0,580.6L219.8,580.7L220.9,582.0L221.8,583.3L222.5,584.6L223.1,586.0L223.6,587.5L224.0,589.1ZM250.8,610.8L251.8,603.3L252.1,596.0L251.8,589.0L250.7,582.4L249.1,576.3L247.0,570.7L246.7,570.8L248.7,576.4L250.2,582.5L251.2,589.0L251.6,596.0L251.4,603.2L250.6,610.8ZM239.7,618.9L241.2,614.5L242.5,610.3L243.4,606.1L244.1,602.2L244.4,598.3L244.5,594.7L244.3,594.7L244.2,598.3L243.8,602.1L243.1,606.1L242.2,610.2L241.0,614.5L239.5,618.8ZM151.0,516.6L148.6,518.4L146.3,520.2L144.1,522.0L142.1,523.8L140.3,525.5L138.6,527.2L138.8,527.3L140.5,525.7L142.4,524.0L144.4,522.3L146.5,520.5L148.7,518.6L151.1,516.8ZM143.9,612.8L146.9,614.3L149.9,615.6L152.8,616.7L155.7,617.7L158.6,618.4L161.3,618.9L161.4,618.7L158.8,617.7L156.0,616.8L153.1,615.8L150.2,614.8L147.1,613.7L144.0,612.6ZM224.0,542.9L219.4,537.8L214.6,533.2L209.5,529.2L204.2,525.7L198.9,522.9L193.5,520.7L193.4,520.9L198.8,523.1L204.1,526.0L209.3,529.4L214.4,533.4L219.3,538.0L223.8,543.1ZM208.2,519.8L204.6,518.6L200.8,517.6L196.9,516.6L192.9,515.7L188.8,514.9L184.6,514.2L184.6,514.4L188.7,515.3L192.8,516.3L196.8,517.2L200.7,518.1L204.5,519.0L208.1,520.0ZM123.6,620.6L126.9,622.0L130.3,623.2L133.7,624.1L137.2,624.7L140.7,625.1L144.3,625.3L144.3,625.0L140.8,624.8L137.3,624.4L133.8,623.7L130.4,622.8L127.0,621.7L123.7,620.4ZM222.0,536.1L220.4,534.9L218.9,533.9L217.5,533.0L216.1,532.2L214.8,531.6L213.6,531.0L213.5,531.3L214.7,531.9L216.0,532.6L217.3,533.4L218.7,534.2L220.3,535.2L221.8,536.2ZM98.6,618.3L101.5,621.9L104.8,625.1L108.3,628.0L112.0,630.5L115.8,632.7L119.9,634.3L120.0,634.1L116.4,631.6L112.8,629.2L109.3,626.6L105.8,623.9L102.3,621.0L98.8,618.1ZM155.8,664.9L161.1,664.2L166.2,663.1L171.0,661.6L175.6,659.7L179.8,657.4L183.8,654.8L183.7,654.6L179.7,657.2L175.5,659.5L170.9,661.3L166.1,662.8L161.1,664.0L155.7,664.7ZM144.3,523.5L141.9,524.7L139.7,526.0L137.8,527.2L136.2,528.5L135.0,529.8L134.1,531.0L134.3,531.2L135.5,530.3L136.8,529.2L138.4,528.0L140.2,526.7L142.2,525.3L144.4,523.7ZM215.0,512.1L209.1,508.8L202.9,506.4L196.5,504.7L190.0,503.9L183.6,504.0L177.3,504.9L177.3,505.1L183.6,505.1L189.9,505.5L196.2,506.4L202.4,507.9L208.6,509.9L214.9,512.3ZM219.3,532.2L216.2,530.1L213.0,528.1L209.6,526.4L206.1,524.9L202.5,523.5L198.9,522.4L198.8,522.7L202.2,524.4L205.6,526.0L209.0,527.6L212.4,529.2L215.8,530.8L219.2,532.4ZM198.3,620.8L200.8,618.5L203.0,615.8L204.8,613.0L206.4,609.9L207.6,606.8L208.4,603.5L208.2,603.4L206.5,606.3L205.0,609.2L203.4,612.1L201.7,615.0L199.9,617.8L198.1,620.7ZM168.6,513.9L163.9,514.9L159.4,516.3L154.9,518.1L150.7,520.2L146.6,522.8L142.7,525.7L142.8,525.9L146.7,523.0L150.8,520.6L155.1,518.4L159.5,516.6L164.0,515.1L168.6,514.1ZM239.5,507.9L231.3,504.1L222.7,501.3L214.1,499.7L205.6,499.2L197.1,499.7L189.0,501.3L189.0,501.5L197.2,500.6L205.5,500.4L214.0,501.0L222.5,502.5L230.9,504.9L239.4,508.2ZM135.9,506.9L134.2,508.1L132.8,509.3L131.6,510.4L130.6,511.5L129.8,512.4L129.3,513.3L129.5,513.5L130.2,512.8L131.1,512.0L132.1,511.0L133.3,509.9L134.6,508.6L136.0,507.1ZM109.1,572.3L110.1,578.2L112.0,583.8L114.5,589.0L117.7,593.7L121.4,597.8L125.6,601.3L125.8,601.1L122.0,597.2L118.6,593.0L115.6,588.3L113.1,583.3L111.0,578.0L109.3,572.2ZM224.0,631.9L227.8,624.6L230.8,617.2L232.9,610.0L234.1,602.8L234.4,596.0L234.0,589.5L233.8,589.5L234.2,596.0L233.8,602.8L232.5,609.9L230.5,617.1L227.6,624.5L223.7,631.8ZM135.7,516.2L133.3,518.2L130.9,520.3L128.6,522.6L126.5,525.1L124.5,527.7L122.6,530.4L122.8,530.6L124.7,527.8L126.7,525.3L128.9,522.8L131.1,520.5L133.4,518.4L135.8,516.4ZM158.6,664.6L162.4,664.7L166.2,664.6L169.8,664.4L173.4,664.1L176.8,663.7L180.1,663.1L180.1,662.9L176.7,662.8L173.3,662.9L169.7,663.1L166.1,663.4L162.4,663.8L158.6,664.4ZM160.1,613.1L164.5,612.2L168.5,611.0L172.2,609.6L175.4,607.9L178.2,606.0L180.5,604.0L180.3,603.8L178.1,605.8L175.3,607.6L172.1,609.3L168.5,610.8L164.4,612.0L160.1,612.9ZM213.7,656.2L215.9,654.9L218.0,653.2L220.1,651.4L222.1,649.3L224.1,647.1L225.9,644.5L225.8,644.4L223.3,646.2L221.0,648.2L218.9,650.1L217.0,652.1L215.1,654.0L213.6,656.0ZM117.6,529.1L115.4,535.3L114.1,541.4L113.5,547.4L113.8,553.1L114.8,558.4L116.6,563.3L116.8,563.2L115.4,558.3L114.5,553.0L114.3,547.4L114.8,541.5L116.0,535.4L117.8,529.1ZM210.5,529.7L206.6,528.0L202.7,526.5L199.0,525.4L195.4,524.6L192.1,524.2L188.9,524.0L188.9,524.2L192.0,524.8L195.3,525.5L198.8,526.4L202.5,527.4L206.4,528.6L210.4,529.9ZM223.9,625.8L226.4,622.8L228.6,619.6L230.6,616.1L232.4,612.5L234.0,608.7L235.2,604.8L235.0,604.7L233.3,608.4L231.6,612.1L229.8,615.7L227.9,619.1L225.8,622.4L223.8,625.7ZM138.3,636.8L140.4,637.5L142.5,638.0L144.6,638.1L146.6,637.9L148.4,637.5L150.1,636.7L150.1,636.4L148.3,636.8L146.4,637.0L144.6,637.1L142.6,637.1L140.6,636.9L138.4,636.6ZM202.4,548.8L200.4,547.0L198.3,545.2L196.0,543.4L193.6,541.6L191.1,539.9L188.4,538.2L188.3,538.4L190.9,540.2L193.4,541.9L195.8,543.7L198.1,545.4L200.2,547.2L202.2,549.0ZM91.8,624.0L93.3,625.6L94.8,627.0L96.3,628.1L97.9,629.0L99.5,629.6L101.1,629.8L101.2,629.6L99.8,628.9L98.3,628.2L96.8,627.3L95.3,626.3L93.7,625.1L92.0,623.8ZM125.3,510.3L121.2,514.5L117.5,519.2L114.5,524.2L112.0,529.6L110.2,535.3L108.8,541.3L109.1,541.3L110.6,535.4L112.5,529.8L115.0,524.5L118.0,519.5L121.5,514.8L125.4,510.5ZM205.5,513.3L199.6,511.3L193.8,509.8L188.1,508.9L182.6,508.6L177.3,508.8L172.2,509.5L172.2,509.7L177.3,509.0L182.6,508.9L188.1,509.2L193.8,510.1L199.6,511.5L205.4,513.5ZM134.2,562.6L134.0,563.9L133.6,565.2L133.2,566.5L132.8,567.7L132.3,568.8L131.6,569.9L131.8,570.0L132.5,568.9L133.1,567.8L133.6,566.6L134.0,565.3L134.2,564.0L134.4,562.6ZM221.8,548.4L219.2,545.0L216.4,542.0L213.4,539.5L210.4,537.3L207.3,535.6L204.2,534.4L204.1,534.6L206.9,536.2L209.9,538.1L212.8,540.2L215.7,542.7L218.7,545.5L221.6,548.6ZM180.5,653.3L184.7,652.0L188.7,650.6L192.4,649.0L195.8,647.3L198.9,645.5L201.7,643.6L201.5,643.4L198.5,644.8L195.3,646.3L191.8,647.8L188.2,649.5L184.4,651.2L180.4,653.0ZM89.7,600.4L91.1,604.0L92.8,607.2L94.7,610.2L96.8,612.9L99.0,615.2L101.4,617.2L101.6,617.0L99.7,614.6L97.7,612.1L95.8,609.5L93.9,606.6L91.9,603.5L89.9,600.3ZM165.5,510.6L162.6,511.5L159.7,512.5L156.8,513.6L154.1,514.8L151.4,516.0L148.8,517.3L148.9,517.6L151.7,516.6L154.5,515.6L157.2,514.5L160.0,513.4L162.8,512.1L165.6,510.8ZM206.3,629.2L209.0,626.4L211.4,623.6L213.4,620.6L215.0,617.5L216.3,614.4L217.2,611.1L216.9,611.0L216.1,614.3L214.8,617.4L213.2,620.5L211.2,623.4L208.8,626.3L206.1,629.0ZM138.5,637.1L143.8,637.3L148.7,636.9L153.4,636.1L157.7,634.7L161.6,632.8L165.0,630.5L164.9,630.3L161.4,632.6L157.5,634.3L153.3,635.7L148.7,636.6L143.8,637.0L138.5,636.9ZM132.6,552.7L131.3,556.2L130.5,559.7L130.4,563.2L130.8,566.5L131.8,569.7L133.3,572.5L133.6,572.4L132.3,569.5L131.6,566.4L131.2,563.1L131.3,559.8L131.8,556.3L132.8,552.7ZM149.7,508.4L147.0,509.5L144.3,511.0L141.8,512.8L139.3,514.9L137.0,517.3L134.9,520.1L135.0,520.2L137.6,518.0L140.1,515.8L142.6,513.8L145.0,512.0L147.4,510.3L149.8,508.6ZM73.7,560.2L73.7,562.3L73.9,564.5L74.2,566.6L74.6,568.8L75.1,571.0L75.7,573.1L76.0,573.1L75.9,570.8L75.7,568.6L75.5,566.4L75.1,564.3L74.6,562.2L73.9,560.1ZM126.7,537.9L124.2,544.0L122.8,550.4L122.2,556.8L122.5,563.2L123.5,569.4L125.4,575.3L125.6,575.2L124.4,569.2L123.7,563.1L123.5,556.9L124.0,550.6L125.1,544.2L126.9,538.0ZM86.8,609.2L90.3,613.2L93.9,616.8L97.7,620.0L101.5,622.9L105.4,625.5L109.4,627.7L109.5,627.5L105.8,625.0L102.1,622.2L98.3,619.2L94.5,616.1L90.7,612.7L86.9,609.1ZM88.9,567.5L89.2,569.5L89.5,571.4L89.8,573.0L90.2,574.5L90.6,575.7L91.0,576.8L91.3,576.7L91.1,575.6L90.9,574.3L90.6,572.9L90.2,571.2L89.7,569.4L89.2,567.5ZM150.2,611.3L153.8,612.2L157.4,612.6L161.1,612.7L164.9,612.3L168.6,611.5L172.2,610.4L172.1,610.1L168.5,611.1L164.8,611.7L161.1,612.1L157.5,612.1L153.9,611.7L150.3,611.1ZM96.1,625.5L101.5,630.9L107.2,635.6L113.2,639.6L119.3,642.8L125.5,645.2L131.8,646.8L131.9,646.6L125.7,644.7L119.6,642.1L113.6,638.9L107.6,635.0L101.9,630.5L96.3,625.3ZM230.7,650.3L232.7,648.3L234.9,646.1L237.1,643.7L239.3,641.0L241.6,638.2L244.0,635.1L243.8,635.0L241.3,637.9L238.9,640.7L236.6,643.3L234.5,645.7L232.4,648.0L230.5,650.2ZM168.6,669.1L175.9,667.3L182.8,664.8L189.1,661.8L194.8,658.2L199.9,654.0L204.2,649.4L204.0,649.3L199.4,653.5L194.3,657.4L188.6,660.9L182.4,664.0L175.7,666.6L168.5,668.8ZM242.4,557.3L241.3,554.3L240.1,551.3L238.8,548.4L237.5,545.6L236.1,542.9L234.6,540.4L234.4,540.5L235.6,543.2L236.8,545.9L238.1,548.7L239.4,551.6L240.8,554.5L242.2,557.4ZM187.2,519.9L180.7,520.0L174.7,520.8L169.2,522.2L164.3,524.1L160.2,526.5L156.8,529.2L157.0,529.4L160.5,527.1L164.7,525.0L169.5,523.1L174.9,521.7L180.8,520.7L187.2,520.1ZM212.2,662.8L215.5,659.7L218.4,656.3L220.9,652.7L222.9,648.8L224.6,644.8L225.6,640.6L225.4,640.5L223.5,644.3L221.5,648.1L219.4,651.8L217.1,655.4L214.6,659.0L212.0,662.6ZM115.5,529.1L114.6,530.9L113.9,532.5L113.5,534.0L113.4,535.4L113.5,536.7L113.9,537.8L114.2,537.7L114.1,536.6L114.1,535.5L114.3,534.2L114.6,532.7L115.1,531.1L115.7,529.2ZM228.6,517.6L223.4,513.6L217.9,510.2L212.3,507.4L206.8,505.1L201.3,503.4L196.0,502.3L195.9,502.6L201.1,504.2L206.4,506.2L211.8,508.6L217.3,511.3L222.9,514.4L228.5,517.8ZM221.2,499.2L212.9,497.0L204.8,495.5L196.7,494.7L189.0,494.6L181.6,495.2L174.6,496.3L174.6,496.6L181.6,495.5L189.0,495.0L196.7,495.1L204.7,495.8L212.9,497.3L221.2,499.4ZM151.9,529.5L148.6,531.3L145.4,533.3L142.4,535.4L139.5,537.7L136.8,540.0L134.1,542.5L134.3,542.7L136.9,540.2L139.7,537.9L142.6,535.6L145.6,533.5L148.7,531.5L152.0,529.7ZM139.7,651.4L141.7,651.8L143.7,652.2L145.8,652.4L148.0,652.5L150.3,652.5L152.7,652.4L152.7,652.2L150.3,652.2L148.1,652.2L145.9,652.0L143.8,651.8L141.7,651.5L139.8,651.1ZM115.3,609.3L117.2,611.0L119.1,612.7L121.1,614.3L123.1,615.7L125.2,617.0L127.2,618.2L127.4,618.0L125.5,616.6L123.6,615.1L121.6,613.6L119.6,612.1L117.5,610.6L115.4,609.1ZM210.3,620.2L212.0,618.5L213.6,616.6L215.2,614.5L216.7,612.3L218.1,609.9L219.4,607.3L219.2,607.2L217.5,609.5L215.9,611.8L214.4,614.0L212.9,616.1L211.5,618.1L210.1,620.0ZM151.5,652.3L159.0,652.7L166.3,652.2L173.2,650.9L179.6,648.9L185.5,646.2L190.6,642.8L190.5,642.6L185.0,645.1L179.1,647.4L172.8,649.2L166.1,650.6L158.9,651.5L151.5,652.1ZM111.7,583.0L112.7,585.4L113.8,587.6L115.0,589.6L116.3,591.3L117.7,592.8L119.1,594.0L119.3,593.8L117.9,592.6L116.6,591.1L115.3,589.4L114.1,587.4L113.0,585.3L112.0,582.9ZM155.1,643.5L159.8,642.6L164.4,641.2L168.8,639.2L173.1,636.8L177.1,634.0L180.9,630.8L180.8,630.6L176.9,633.7L172.8,636.4L168.6,638.7L164.2,640.6L159.7,642.2L155.1,643.3ZM251.2,582.6L250.7,578.2L249.6,573.9L248.1,569.7L246.1,565.7L243.8,561.9L241.0,558.3L240.8,558.5L242.8,562.5L244.7,566.4L246.5,570.4L248.1,574.4L249.5,578.5L250.9,582.7ZM197.4,516.3L190.6,515.3L183.9,515.1L177.5,515.7L171.5,516.9L165.9,518.9L160.8,521.5L160.9,521.7L166.1,519.5L171.7,517.8L177.7,516.6L184.0,516.0L190.5,516.0L197.3,516.6ZM183.1,521.3L181.5,520.8L180.0,520.5L178.5,520.2L177.1,520.0L175.7,519.9L174.3,519.8L174.3,520.1L175.5,520.6L176.9,520.9L178.3,521.2L179.8,521.4L181.4,521.5L183.0,521.5ZM265.3,588.8L264.5,582.6L263.2,576.5L261.3,570.5L258.9,564.8L256.0,559.4L252.6,554.2L252.4,554.4L255.6,559.6L258.4,565.1L260.7,570.7L262.6,576.6L264.1,582.6L265.0,588.9ZM125.6,515.0L124.2,516.6L122.9,518.1L121.8,519.6L121.0,521.2L120.5,522.8L120.1,524.3L120.3,524.4L120.7,522.8L121.3,521.3L122.1,519.8L123.1,518.3L124.3,516.7L125.8,515.2ZM140.5,487.3L132.7,491.1L125.5,495.7L118.8,501.1L112.8,507.2L107.6,513.9L103.2,521.0L103.4,521.2L108.1,514.2L113.4,507.7L119.3,501.7L125.9,496.3L133.0,491.6L140.7,487.5ZM83.6,526.0L82.5,531.5L81.7,537.1L81.3,542.6L81.4,548.2L81.7,553.7L82.5,559.2L82.7,559.1L82.4,553.7L82.3,548.2L82.3,542.7L82.6,537.1L83.1,531.6L83.8,526.1ZM191.5,613.2L194.7,610.1L197.5,606.9L199.9,603.4L202.0,599.9L203.7,596.3L204.9,592.8L204.6,592.7L202.8,595.9L200.9,599.3L198.8,602.7L196.5,606.1L194.0,609.6L191.3,613.0ZM244.1,509.2L240.3,506.2L236.5,503.5L232.7,501.3L228.8,499.4L225.0,498.0L221.2,497.0L221.2,497.2L224.9,498.4L228.6,499.9L232.4,501.8L236.2,504.0L240.1,506.5L244.0,509.4ZM103.8,560.4L103.0,565.2L102.7,570.2L102.7,575.4L103.1,580.6L103.8,585.8L105.0,591.0L105.2,591.0L105.0,585.7L104.7,580.4L104.4,575.3L104.3,570.2L104.2,565.3L104.0,560.4ZM241.8,607.3L242.4,603.9L242.8,600.3L242.9,596.8L242.8,593.2L242.4,589.6L241.8,586.0L241.6,586.0L241.8,589.6L241.9,593.2L241.9,596.8L241.9,600.3L241.7,603.8L241.6,607.3ZM235.9,598.2L236.3,595.1L236.4,591.8L236.0,588.4L235.4,585.0L234.4,581.4L233.0,577.9L232.8,578.0L233.7,581.6L234.5,585.1L235.1,588.6L235.4,591.9L235.6,595.1L235.6,598.2ZM71.7,572.8L72.4,575.7L73.2,578.6L74.1,581.5L75.0,584.4L76.0,587.2L77.1,590.1L77.3,590.0L76.3,587.1L75.4,584.3L74.5,581.4L73.6,578.5L72.7,575.6L71.9,572.7ZM87.2,623.6L88.1,625.4L89.1,627.1L90.0,628.8L91.0,630.5L92.1,632.1L93.2,633.7L93.5,633.6L93.1,631.6L92.4,629.7L91.5,627.9L90.4,626.3L89.0,624.7L87.4,623.4ZM150.3,639.7L155.8,640.0L161.1,640.0L166.2,639.6L171.1,638.9L175.7,638.0L180.0,636.7L179.9,636.5L175.6,637.4L171.0,638.2L166.2,638.8L161.1,639.2L155.8,639.4L150.3,639.4ZM249.8,598.6L250.5,594.1L251.0,589.6L251.2,585.3L251.1,580.9L250.7,576.7L250.0,572.7L249.8,572.7L250.3,576.8L250.5,581.0L250.6,585.3L250.5,589.6L250.1,594.0L249.6,598.5ZM225.5,532.4L222.8,530.6L220.3,529.1L217.8,527.9L215.4,526.9L213.1,526.2L211.0,525.8L210.9,526.0L212.9,526.9L215.0,527.8L217.4,528.8L219.9,530.0L222.5,531.2L225.4,532.6ZM231.8,532.5L228.8,529.3L225.6,526.3L222.2,523.5L218.7,521.0L215.1,518.7L211.4,516.6L211.3,516.8L214.6,519.4L218.0,522.0L221.4,524.6L224.8,527.2L228.2,530.0L231.6,532.7ZM180.6,532.3L177.4,532.4L174.3,532.5L171.2,532.7L168.3,533.1L165.5,533.5L162.8,533.9L162.8,534.2L165.5,533.9L168.4,533.6L171.3,533.3L174.3,533.0L177.5,532.8L180.6,532.6ZM94.6,552.6L94.2,556.8L94.0,560.9L94.3,564.8L94.8,568.5L95.7,571.9L96.9,575.1L97.1,575.1L95.9,571.9L95.1,568.4L94.6,564.7L94.3,560.9L94.4,556.8L94.8,552.6ZM233.3,554.9L230.7,550.7L227.5,546.8L223.8,543.3L219.7,540.1L215.3,537.2L210.4,534.9L210.3,535.1L214.8,538.0L219.0,541.0L222.9,544.2L226.6,547.6L229.9,551.3L233.1,555.1ZM248.1,555.5L246.0,551.7L243.7,548.0L241.4,544.4L239.0,541.0L236.6,537.7L234.1,534.5L233.9,534.6L236.2,537.9L238.6,541.3L240.9,544.8L243.3,548.3L245.6,551.9L247.9,555.6ZM209.2,611.0L212.2,606.4L214.2,601.3L215.4,596.0L215.8,590.5L215.3,585.1L213.9,579.8L213.6,579.9L214.1,585.2L214.2,590.5L213.7,595.7L212.7,600.8L211.1,605.9L209.0,610.9ZM186.3,517.4L182.0,517.7L177.6,518.3L173.3,519.3L169.1,520.6L164.9,522.3L160.8,524.2L160.9,524.4L165.1,522.8L169.3,521.3L173.5,520.1L177.8,519.0L182.0,518.2L186.3,517.7ZM132.0,602.5L133.8,604.1L135.6,605.8L137.4,607.4L139.2,609.0L141.0,610.6L142.8,612.2L142.9,612.0L141.2,610.4L139.4,608.8L137.6,607.2L135.8,605.6L134.0,604.0L132.2,602.3ZM255.1,606.4L256.7,599.6L257.5,592.5L257.5,585.3L256.8,578.1L255.3,570.8L253.0,563.7L252.8,563.7L254.6,571.0L255.9,578.2L256.5,585.4L256.6,592.5L256.0,599.5L254.9,606.4ZM155.6,511.5L150.9,514.2L146.6,517.0L142.7,520.0L139.2,523.1L136.2,526.2L133.7,529.3L133.9,529.5L136.4,526.4L139.5,523.4L142.9,520.3L146.8,517.3L151.1,514.4L155.7,511.7ZM243.7,532.7L241.9,530.9L240.1,529.1L238.3,527.3L236.5,525.5L234.7,523.7L232.8,521.9L232.7,522.1L234.3,524.1L236.0,526.1L237.8,527.9L239.6,529.7L241.6,531.3L243.6,532.9ZM197.5,491.0L192.2,490.9L186.9,491.2L181.6,491.8L176.3,492.5L171.0,493.6L165.9,494.9L165.9,495.1L171.2,494.4L176.5,493.7L181.7,493.0L187.0,492.4L192.3,491.8L197.5,491.2ZM79.1,547.5L78.6,550.2L78.3,553.0L78.2,555.8L78.3,558.6L78.5,561.5L78.9,564.4L79.2,564.4L78.9,561.5L78.8,558.6L78.8,555.8L78.9,553.0L79.0,550.3L79.3,547.6ZM201.5,540.2L199.9,539.2L198.4,538.1L197.1,537.0L195.8,535.9L194.5,534.7L193.4,533.4L193.2,533.6L194.3,534.9L195.5,536.1L196.8,537.3L198.2,538.4L199.7,539.4L201.3,540.4ZM263.3,593.4L263.4,588.5L263.2,583.7L262.7,578.9L261.9,574.2L260.9,569.7L259.5,565.3L259.3,565.4L260.0,569.9L260.8,574.4L261.4,579.1L262.0,583.8L262.5,588.6L263.0,593.4ZM190.8,507.3L185.8,506.9L180.9,506.8L176.2,507.0L171.8,507.6L167.6,508.4L163.7,509.5L163.7,509.7L167.7,509.1L171.9,508.5L176.3,508.0L180.9,507.7L185.8,507.6L190.8,507.6ZM193.1,651.0L196.8,649.3L200.3,647.4L203.7,645.5L206.8,643.5L209.7,641.4L212.4,639.2L212.2,639.0L209.5,641.0L206.5,643.0L203.3,645.0L200.0,646.9L196.6,648.9L193.0,650.8ZM95.6,530.1L94.5,535.2L93.7,540.4L93.3,545.7L93.2,551.2L93.5,556.6L94.0,562.1L94.2,562.1L93.8,556.6L93.6,551.1L93.7,545.8L94.1,540.5L94.8,535.3L95.9,530.2ZM147.8,514.4L145.0,515.6L142.3,516.9L139.7,518.2L137.3,519.6L135.0,521.0L132.8,522.5L133.0,522.7L135.4,521.8L137.8,520.6L140.3,519.4L142.8,517.9L145.4,516.4L147.9,514.6ZM166.1,671.5L169.7,671.1L173.1,670.4L176.3,669.3L179.3,668.0L182.1,666.3L184.5,664.3L184.4,664.1L181.7,665.7L178.9,667.1L176.0,668.4L172.8,669.5L169.5,670.4L166.0,671.2ZM99.4,561.6L99.3,565.6L99.5,569.4L100.0,573.1L101.0,576.6L102.2,579.8L103.7,582.9L104.0,582.8L102.5,579.7L101.3,576.5L100.4,573.0L99.8,569.4L99.6,565.6L99.6,561.6ZM205.6,523.8L203.8,523.0L201.7,522.4L199.6,521.9L197.3,521.5L194.9,521.3L192.4,521.3L192.4,521.5L194.8,522.0L197.2,522.5L199.4,522.9L201.5,523.3L203.6,523.7L205.6,524.0ZM97.6,599.4L102.0,606.0L106.8,612.1L112.0,617.5L117.6,622.3L123.3,626.3L129.2,629.7L129.3,629.5L123.5,626.0L117.9,621.8L112.4,617.1L107.2,611.7L102.3,605.8L97.8,599.3ZM187.0,628.3L190.6,625.6L193.9,622.5L196.6,619.2L199.0,615.5L200.8,611.6L202.2,607.5L202.0,607.5L200.6,611.5L198.7,615.4L196.4,619.0L193.6,622.4L190.5,625.4L186.8,628.1ZM222.1,573.7L221.3,570.5L220.5,567.4L219.7,564.5L218.7,561.9L217.7,559.4L216.8,557.2L216.6,557.3L217.6,559.5L218.5,562.0L219.4,564.6L220.3,567.5L221.1,570.5L221.9,573.7ZM208.2,527.0L202.9,524.5L197.5,522.3L191.9,520.6L186.2,519.3L180.5,518.5L174.9,518.1L174.9,518.3L180.5,518.8L186.2,519.7L191.8,521.0L197.4,522.6L202.8,524.7L208.1,527.2ZM147.0,667.5L152.8,667.6L158.5,667.3L164.0,666.5L169.4,665.4L174.5,663.8L179.4,661.8L179.3,661.6L174.4,663.6L169.3,665.1L164.0,666.2L158.5,667.0L152.8,667.4L147.0,667.3ZM107.3,571.5L107.8,578.0L109.3,584.1L111.6,589.8L114.6,594.9L118.3,599.3L122.6,603.0L122.8,602.8L119.2,598.6L115.9,594.0L113.1,589.0L110.8,583.6L109.0,577.7L107.6,571.5ZM183.1,532.5L181.0,532.3L178.9,532.4L177.1,532.9L175.4,533.7L174.1,534.7L173.1,536.0L173.2,536.2L174.6,535.4L176.0,534.7L177.5,534.1L179.2,533.6L181.0,533.2L183.1,532.8ZM226.0,594.8L227.0,588.1L226.9,581.3L225.9,574.8L224.1,568.7L221.5,563.0L218.2,557.9L218.0,558.0L220.5,563.5L222.6,569.2L224.3,575.2L225.3,581.5L225.8,588.0L225.7,594.8ZM132.6,531.9L130.9,534.5L129.2,537.2L127.6,540.0L126.0,542.8L124.5,545.6L123.0,548.5L123.2,548.6L124.7,545.8L126.3,543.0L127.9,540.2L129.5,537.4L131.1,534.7L132.8,532.0ZM241.1,539.8L236.7,534.8L231.9,530.1L226.6,526.0L220.9,522.4L214.8,519.4L208.5,516.9L208.4,517.1L214.7,519.6L220.7,522.7L226.4,526.3L231.7,530.4L236.6,534.9L240.9,540.0ZM217.6,571.6L216.3,568.9L215.1,566.5L213.8,564.2L212.6,562.1L211.4,560.3L210.2,558.7L210.0,558.8L211.2,560.4L212.3,562.3L213.6,564.3L214.8,566.6L216.1,569.0L217.3,571.7ZM125.7,600.8L127.3,602.6L129.3,604.2L131.6,605.8L134.1,607.2L136.9,608.6L139.9,609.8L140.0,609.6L137.5,607.6L134.9,605.9L132.5,604.3L130.2,602.9L128.0,601.6L125.8,600.6ZM96.4,604.9L99.5,610.2L103.0,615.2L106.9,619.7L111.1,623.8L115.7,627.5L120.5,630.5L120.6,630.3L116.2,626.7L111.9,622.9L107.8,618.8L103.9,614.4L100.2,609.7L96.6,604.7ZM153.5,522.7L150.3,524.6L147.3,526.5L144.6,528.5L142.2,530.4L140.2,532.4L138.4,534.2L138.5,534.4L140.3,532.5L142.4,530.6L144.8,528.7L147.5,526.7L150.4,524.8L153.6,522.9ZM253.2,626.7L256.0,619.2L258.2,611.7L259.7,604.4L260.7,597.2L260.9,590.3L260.7,583.6L260.4,583.7L260.7,590.3L260.3,597.2L259.3,604.3L257.8,611.6L255.7,619.1L252.9,626.6ZM259.1,530.2L252.7,525.0L246.1,520.6L239.3,517.1L232.5,514.3L225.6,512.4L218.8,511.2L218.8,511.4L225.6,512.6L232.4,514.6L239.2,517.3L246.0,520.9L252.6,525.2L258.9,530.4ZM250.8,515.4L248.1,512.3L245.1,509.6L241.9,507.4L238.5,505.5L235.0,504.1L231.4,503.3L231.3,503.5L234.5,505.2L237.8,506.9L241.0,508.8L244.1,510.9L247.4,513.2L250.7,515.6ZM198.3,599.2L199.5,594.5L200.1,589.7L200.0,585.0L199.2,580.4L197.7,576.0L195.9,571.9L195.7,572.0L197.5,576.1L198.9,580.4L199.7,585.0L199.8,589.7L199.3,594.4L198.0,599.2ZM125.7,542.3L123.7,547.9L122.8,553.5L122.8,558.8L123.7,563.8L125.4,568.2L128.0,571.9L128.2,571.8L126.2,567.8L124.8,563.5L124.1,558.7L124.0,553.6L124.6,548.1L125.9,542.3ZM180.8,534.3L174.9,534.9L169.4,536.1L164.4,538.0L159.9,540.5L156.1,543.3L152.9,546.4L153.1,546.6L156.4,543.7L160.3,541.1L164.7,538.8L169.7,536.8L175.0,535.4L180.8,534.5ZM224.9,534.4L222.7,532.0L220.4,529.8L218.0,527.6L215.5,525.5L212.9,523.5L210.2,521.7L210.1,521.9L212.6,523.9L215.1,525.9L217.6,528.0L220.0,530.2L222.4,532.3L224.7,534.6ZM177.4,658.9L184.9,656.7L191.9,653.9L198.4,650.4L204.3,646.4L209.6,641.8L214.4,636.8L214.2,636.6L209.4,641.6L204.1,646.1L198.1,650.1L191.7,653.5L184.8,656.4L177.4,658.7ZM219.1,547.4L217.3,545.5L215.2,543.7L212.9,542.2L210.4,540.8L207.8,539.7L205.1,538.7L205.0,538.9L207.5,540.3L210.0,541.6L212.3,543.0L214.6,544.5L216.8,546.0L219.0,547.6ZM212.0,533.9L209.9,532.3L207.6,531.0L205.3,529.9L203.0,529.0L200.6,528.4L198.2,528.0L198.2,528.2L200.5,528.8L202.8,529.5L205.1,530.4L207.4,531.5L209.6,532.7L211.9,534.1ZM223.8,586.8L224.4,584.0L224.7,581.0L224.9,578.0L224.9,575.0L224.7,571.8L224.3,568.7L224.1,568.7L223.8,571.8L223.7,574.9L223.6,578.0L223.5,581.0L223.5,583.9L223.6,586.8ZM119.9,603.8L124.8,608.5L130.0,612.3L135.5,615.2L141.0,617.0L146.5,617.9L151.8,617.8L151.8,617.5L146.5,617.5L141.2,616.5L135.7,614.6L130.3,611.8L125.1,608.2L120.0,603.6ZM86.7,620.0L90.6,625.2L94.9,630.1L99.5,634.6L104.2,638.8L109.2,642.6L114.4,645.9L114.5,645.7L109.9,641.7L105.3,637.6L100.6,633.4L96.0,629.0L91.5,624.5L86.9,619.8ZM243.9,548.0L242.1,546.1L240.2,544.1L238.1,542.1L235.8,540.0L233.3,537.8L230.6,535.6L230.5,535.7L233.2,538.0L235.6,540.2L237.9,542.3L240.0,544.3L242.0,546.3L243.7,548.1ZM216.6,596.1L217.1,593.8L217.6,591.5L218.1,589.1L218.7,586.7L219.2,584.3L219.8,581.8L219.6,581.7L219.0,584.2L218.3,586.6L217.8,589.0L217.3,591.4L216.8,593.8L216.4,596.1ZM200.1,655.8L202.7,654.5L205.1,653.0L207.5,651.5L209.7,650.0L211.9,648.5L214.0,646.9L213.9,646.7L211.3,647.5L208.9,648.7L206.6,650.1L204.3,651.7L202.0,653.5L199.9,655.6ZM118.0,626.8L119.8,628.5L121.8,629.8L123.7,630.8L125.5,631.5L127.3,631.9L128.9,631.8L129.0,631.6L127.6,630.8L126.1,630.1L124.4,629.3L122.5,628.4L120.4,627.5L118.1,626.6ZM232.5,594.9L232.9,591.4L233.1,588.0L233.0,584.6L232.6,581.2L231.9,577.8L231.0,574.6L230.8,574.6L231.7,577.9L232.3,581.2L232.7,584.6L232.8,588.0L232.7,591.4L232.2,594.8ZM142.8,538.1L141.7,539.1L140.9,540.5L140.4,542.0L140.3,543.6L140.5,545.2L141.2,546.8L141.4,546.8L141.7,545.1L141.8,543.7L142.1,542.3L142.4,541.0L142.7,539.7L143.0,538.2ZM222.3,563.3L220.6,558.9L218.6,554.9L216.3,551.4L213.6,548.3L210.8,545.7L207.8,543.7L207.6,543.9L210.4,546.1L213.1,548.8L215.6,551.8L218.0,555.3L220.1,559.2L222.1,563.4ZM110.1,531.4L107.5,537.9L105.5,544.6L104.1,551.2L103.3,557.8L103.1,564.2L103.4,570.3L103.6,570.3L103.4,564.2L103.6,557.8L104.5,551.3L105.8,544.7L107.8,538.0L110.4,531.5ZM90.9,553.6L90.3,557.2L90.0,560.7L90.0,564.1L90.3,567.3L90.9,570.5L91.9,573.5L92.1,573.4L91.5,570.4L91.0,567.2L90.8,564.0L90.7,560.7L90.8,557.2L91.1,553.7ZM175.9,609.9L179.8,608.1L183.1,605.5L185.8,602.4L187.9,598.8L189.2,594.8L189.7,590.6L189.4,590.5L188.3,594.5L186.8,598.3L184.8,601.6L182.3,604.7L179.3,607.3L175.8,609.7ZM202.3,631.2L208.0,626.3L212.8,620.7L216.8,614.5L219.8,608.1L222.0,601.4L223.1,594.6L222.9,594.5L220.9,601.0L218.4,607.5L215.3,613.7L211.5,619.8L207.1,625.5L202.1,631.0ZM115.9,523.7L113.7,526.8L111.8,530.0L110.2,533.3L108.9,536.6L107.9,540.0L107.3,543.3L107.5,543.4L108.6,540.2L109.8,536.9L111.1,533.7L112.6,530.4L114.3,527.1L116.1,523.8ZM92.9,594.0L95.4,597.4L98.1,600.6L101.0,603.7L104.2,606.5L107.4,609.2L110.9,611.7L111.0,611.5L107.6,608.9L104.4,606.2L101.3,603.4L98.4,600.4L95.6,597.2L93.1,593.9ZM74.0,593.8L76.9,599.1L80.3,604.0L83.9,608.6L87.7,612.8L91.7,616.6L95.9,619.9L96.0,619.7L92.5,615.8L88.9,611.7L85.2,607.5L81.6,603.1L77.9,598.4L74.2,593.7ZM118.3,546.2L117.9,548.8L117.7,551.4L117.7,554.0L117.9,556.6L118.3,559.2L118.9,561.8L119.1,561.8L118.7,559.2L118.4,556.6L118.3,554.0L118.2,551.4L118.3,548.8L118.5,546.3ZM136.9,579.1L137.1,580.6L137.7,582.0L138.5,583.2L139.4,584.2L140.5,585.0L141.7,585.5L141.9,585.3L141.3,584.1L140.6,583.1L139.8,582.1L139.0,581.1L138.1,580.1L137.1,579.0ZM137.2,575.7L137.5,577.6L138.2,579.3L139.1,580.8L140.2,581.9L141.6,582.7L143.0,583.1L143.1,582.9L142.0,582.0L141.1,581.1L140.1,580.0L139.2,578.7L138.4,577.3L137.4,575.6ZM127.5,526.3L126.1,527.8L124.7,529.4L123.2,530.9L121.8,532.5L120.4,534.0L118.9,535.6L119.1,535.8L120.5,534.2L122.0,532.6L123.5,531.1L124.9,529.5L126.2,528.0L127.6,526.5ZM182.9,533.0L180.3,532.6L177.5,532.5L174.7,532.6L171.9,532.8L168.9,533.2L166.0,533.9L166.0,534.2L169.0,534.4L172.0,534.4L174.8,534.3L177.6,534.1L180.3,533.8L182.9,533.2ZM231.6,598.4L231.6,596.3L231.5,594.2L231.1,592.3L230.7,590.5L230.0,588.9L229.2,587.5L229.0,587.6L229.7,589.1L230.3,590.7L230.8,592.4L231.1,594.3L231.3,596.3L231.4,598.4ZM127.1,637.6L129.8,639.2L132.6,640.4L135.5,641.2L138.5,641.7L141.4,641.9L144.3,641.6L144.3,641.4L141.5,640.7L138.7,640.2L135.9,639.5L133.1,638.9L130.2,638.1L127.2,637.4ZM161.3,517.2L158.2,518.2L155.1,519.3L152.0,520.6L148.9,522.1L145.8,523.7L142.6,525.4L142.7,525.6L145.9,523.9L149.0,522.4L152.2,521.0L155.3,519.7L158.3,518.5L161.3,517.4ZM118.2,498.8L114.6,502.7L111.7,507.1L109.2,511.7L107.3,516.7L105.9,521.9L105.2,527.2L105.4,527.3L106.8,522.1L108.4,517.1L110.4,512.3L112.7,507.7L115.4,503.2L118.4,498.9ZM131.4,667.2L134.7,667.9L137.9,668.3L141.1,668.5L144.1,668.6L147.0,668.4L149.8,668.0L149.8,667.8L147.1,667.3L144.2,667.0L141.2,666.8L138.0,666.7L134.8,666.7L131.4,667.0ZM127.8,502.5L124.2,505.8L121.0,509.3L118.1,513.2L115.7,517.4L113.6,521.8L112.0,526.5L112.3,526.6L114.1,522.1L116.3,517.8L118.8,513.7L121.5,509.8L124.6,506.1L128.0,502.7ZM244.2,547.6L240.7,542.6L236.9,537.9L232.9,533.4L228.6,529.2L224.2,525.4L219.7,521.9L219.6,522.0L223.9,525.8L228.1,529.8L232.3,533.9L236.4,538.3L240.3,542.9L244.0,547.7ZM264.8,562.6L263.3,559.4L261.7,556.2L260.2,553.1L258.5,550.1L256.8,547.3L255.2,544.5L255.0,544.7L256.7,547.4L258.3,550.3L259.9,553.2L261.5,556.3L263.1,559.5L264.6,562.7ZM159.8,637.6L162.8,637.4L165.7,636.7L168.7,635.7L171.7,634.4L174.6,632.7L177.5,630.7L177.4,630.4L174.2,631.9L171.2,633.3L168.3,634.5L165.4,635.6L162.6,636.5L159.8,637.3ZM230.6,596.4L231.0,594.6L231.2,593.0L231.4,591.6L231.4,590.3L231.4,589.1L231.3,588.2L231.0,588.2L230.7,589.1L230.5,590.2L230.4,591.5L230.3,592.9L230.3,594.6L230.3,596.4ZM107.7,566.5L107.3,570.7L107.6,574.9L108.3,578.8L109.6,582.5L111.4,585.8L113.7,588.6L113.9,588.5L112.4,585.2L111.1,581.9L110.0,578.4L109.1,574.6L108.5,570.7L108.0,566.4ZM147.5,661.0L155.8,660.9L163.9,660.0L171.6,658.0L178.9,655.2L185.8,651.6L192.0,647.2L191.9,647.0L185.5,651.1L178.6,654.6L171.4,657.3L163.7,659.2L155.8,660.4L147.5,660.7ZM143.7,606.9L147.3,608.0L150.9,608.6L154.5,608.6L157.9,608.0L161.2,607.0L164.3,605.4L164.2,605.2L161.0,606.1L157.7,606.9L154.4,607.3L150.9,607.4L147.4,607.2L143.8,606.7ZM254.1,526.7L252.5,524.8L250.8,523.1L249.1,521.6L247.4,520.2L245.7,519.1L244.0,518.2L243.8,518.4L245.4,519.5L247.0,520.8L248.6,522.2L250.3,523.6L252.1,525.2L254.0,526.9ZM118.8,514.7L114.9,521.8L112.1,529.1L110.2,536.4L109.3,543.6L109.3,550.6L110.2,557.2L110.5,557.2L109.7,550.6L109.8,543.7L110.8,536.6L112.6,529.3L115.3,522.0L119.0,514.8ZM198.7,592.7L199.1,590.9L199.2,589.1L199.0,587.3L198.5,585.5L197.7,583.9L196.6,582.4L196.4,582.5L197.1,584.2L197.6,585.8L198.1,587.5L198.3,589.2L198.5,590.9L198.5,592.7ZM157.3,515.9L151.9,517.8L147.0,520.2L142.7,523.0L138.9,526.2L135.8,529.5L133.4,533.1L133.6,533.3L136.6,530.3L139.9,527.3L143.7,524.4L147.8,521.6L152.4,518.8L157.4,516.1ZM207.9,590.3L207.7,584.7L206.8,579.6L205.3,575.1L203.4,571.3L201.0,568.2L198.5,566.0L198.4,566.1L200.8,568.4L203.1,571.4L205.0,575.2L206.4,579.7L207.4,584.7L207.7,590.3ZM206.6,592.6L207.1,590.3L207.5,588.1L207.8,586.2L208.1,584.4L208.2,582.9L208.3,581.5L208.0,581.5L207.7,582.8L207.3,584.3L207.1,586.0L206.8,588.0L206.6,590.2L206.4,592.6ZM185.4,502.1L181.9,502.6L178.6,503.3L175.4,504.2L172.3,505.2L169.4,506.5L166.7,508.0L166.8,508.2L169.5,506.8L172.4,505.6L175.5,504.5L178.7,503.6L182.0,502.9L185.5,502.4ZM159.1,536.6L157.3,537.1L155.6,537.7L154.0,538.3L152.4,539.1L150.8,539.9L149.2,540.8L149.4,541.0L151.0,540.4L152.7,539.7L154.3,539.1L155.9,538.3L157.5,537.6L159.1,536.8ZM103.3,515.3L101.3,517.9L99.4,520.8L97.8,523.7L96.4,526.8L95.3,530.0L94.4,533.3L94.6,533.3L96.1,530.3L97.5,527.3L99.0,524.3L100.5,521.3L102.0,518.4L103.5,515.4ZM233.1,568.5L232.5,566.3L231.8,564.2L231.2,562.2L230.6,560.3L230.0,558.6L229.5,557.0L229.3,557.1L229.8,558.7L230.3,560.5L230.9,562.3L231.5,564.3L232.2,566.4L232.9,568.6ZM163.5,496.1L156.3,498.1L149.5,500.8L143.1,504.2L137.4,508.2L132.2,512.8L127.6,517.8L127.8,518.0L132.3,512.9L137.5,508.4L143.3,504.5L149.6,501.1L156.3,498.3L163.5,496.3Z"/>
</g>
<!-- arrows -->
<g fill="none" stroke-linecap="round" stroke-linejoin="round">
<path d="M254.5,170.8 H493 M464,148.75 L493.75,170.8 L464,193" stroke="#ff3131" stroke-width="15"/>
<path d="M306.5,217 L193.5,468.5 M185,432.75 L193.5,468.5 L225.6,451.25" stroke="#0cc0df" stroke-width="14"/>
<path d="M299,547 Q445,548 527,459 M496.2,466 L527,459 L525.5,490.5" stroke="#ff3131" stroke-width="12.5"/>
</g>
<!-- hand -->
<g id="hand">
<path d="M452.5,340 V252 a7.5,7.5 0 0 1 15,0 V237.8 a8,8 0 0 1 16,0 V232 a8.5,8.5 0 0 1 17,0 V234.5 a8,8 0 0 1 16,0 V263 a8,8 0 0 1 16,0 V345 L520,362 H466 V338 Z" fill="#fff"/>
<g fill="none" stroke="#1c1c1c" stroke-width="1.15" stroke-linecap="round" stroke-linejoin="round">
<path d="M452.5,300 V252 a7.5,7.5 0 0 1 15,0"/>
<path d="M467.5,280 V237.8 a8,8 0 0 1 16,0 V280"/>
<path d="M483.5,237.8 V232 a8.5,8.5 0 0 1 17,0 V280"/>
<path d="M500.5,234.5 a8,8 0 0 1 16,0 V285"/>
<path d="M516.5,263 a8,8 0 0 1 16,0 V311"/>
<path d="M501,296.6 L509.5,292"/>
<path d="M452.5,300 V333 M462,333.5 L465.5,337 V356"/>
</g>
</g>
<!-- No -->
<g id="no" font-weight="700" fill="#a68b48"><text transform="translate(434,380.6) scale(0.787,1)" font-family="'DejaVu Sans',sans-serif" font-size="116.6">N</text><text transform="translate(506.2,374.5) scale(0.75,1)" font-family="'DejaVu Serif',serif" font-size="85.9" stroke="#a68b48" stroke-width="2.4" stroke-linejoin="round" style="text-transform:uppercase">o</text></g>
<!-- persons -->
<g id="pA"><circle cx="156.2" cy="93.8" r="34"/><use href="#body"/></g>
<g id="pB"><circle cx="591.9" cy="103.3" r="34"/><use href="#body" transform="translate(436,10)"/></g>
<g id="pC"><circle cx="168.7" cy="523.7" r="33.8"/><use href="#body" transform="translate(12.5,430.7)"/></g>
<g fill="#fff" class="b" font-size="75" text-anchor="middle">
<text transform="translate(156,194.3) scale(0.925,1)">A</text>
<text transform="translate(594,205) scale(0.845,1)">B</text>
<text transform="translate(169.7,628.5) scale(0.86,1)" font-size="74.5">C</text>
</g>
<!-- grin -->
<g id="grin">
<path d="M147.2,535.6 Q170,534.5 191.4,527.8 Q186,539 178,542.2 Q170,544.6 160,542.2 Q152,540 147.2,535.6 Z" fill="#fff"/>
<path d="M148,536 L151.5,537.6 L160,536.5 L159,539.7 L164.5,535 L169.5,543.2 L174,534 L180,537.2 L184,531 L187,533.2 L190.5,528.5" fill="none" stroke="#000" stroke-width="1.5" stroke-linejoin="miter"/>
</g>
<!-- watermark -->
<g id="wm" class="wm" opacity="0.04">
<text x="6.5" y="210.5">iz<tspan dx="-3.5">u</tspan><tspan dx="-6.5">m</tspan><tspan dx="7.5">i</tspan>n</text>
<text x="16" y="457">iz<tspan dx="-3.5">u</tspan><tspan dx="-6.5">m</tspan><tspan dx="7.5">i</tspan>n</text>
<text x="25.5" y="703.5">iz<tspan dx="-3.5">u</tspan><tspan dx="-6.5">m</tspan><tspan dx="7.5">i</tspan>n</text>
<circle cx="40.5" cy="41" r="19.5"/><circle cx="596" cy="41" r="19.5"/><circle cx="50" cy="288" r="19.5"/><circle cx="605.5" cy="288" r="19.5"/><circle cx="59.5" cy="534.5" r="19.5"/><circle cx="615" cy="534.5" r="19.5"/>
</g>
<!-- bubbles -->
<g id="bubbles" fill="#fff" stroke="#000" stroke-linejoin="round">
<path d="M46,400 A37.0,37.0 0 0 1 104,399 A50.4,50.4 0 0 1 153,419 A33.2,33.2 0 0 1 151,454 A41.0,41.0 0 0 1 113,473.5 A19.4,19.4 0 0 1 86,471.5 A121.6,121.6 0 0 1 37,469 A23.3,23.3 0 0 1 15.5,448 A26.7,26.7 0 0 1 13,420 A11.6,11.6 0 0 1 22,406 A31.8,31.8 0 0 1 46,400 Z" stroke-width="2.1"/>
<path d="M46,400 A37.0,37.0 0 0 1 104,399 A50.4,50.4 0 0 1 153,419 A33.2,33.2 0 0 1 151,454 A41.0,41.0 0 0 1 113,473.5 A19.4,19.4 0 0 1 86,471.5 A121.6,121.6 0 0 1 37,469 A23.3,23.3 0 0 1 15.5,448 A26.7,26.7 0 0 1 13,420 A11.6,11.6 0 0 1 22,406 A31.8,31.8 0 0 1 46,400 Z" fill="none" stroke-width="0.9" transform="translate(84,432) scale(0.975,0.965) rotate(-1.2) translate(-84,-432)"/>
<ellipse cx="109.4" cy="478.4" rx="9.5" ry="5.2" transform="rotate(-12 109.4 478.4)" stroke-width="1.6"/>
<ellipse cx="121.5" cy="485.2" rx="4.2" ry="3.1" transform="rotate(-12 121.5 485.2)" stroke-width="1.4"/>
<ellipse cx="133.9" cy="489" rx="2.8" ry="2.3" stroke-width="1.2"/>
<path d="M274.55,494.9 A87.5,68 0 1 1 287.4,507.4 L255.6,527.5 Z" stroke-width="3" stroke-linejoin="miter"/>
</g>
<g class="b" font-size="18.7">
<text x="33.5" y="432">譲渡禁止って</text>
<text x="35" y="457" font-size="19">知ってるけど</text>
</g>
<g class="b" font-size="21.8">
<text x="267" y="446.5">債権譲受けたから</text>
<text x="285.5" y="484.5" font-size="21.5">私に弁済して</text>
</g>
<!-- labels -->
<text x="23.5" y="44.5" font-size="33" class="b red">債権譲渡は</text>
<text x="110" y="258.5" font-size="30" class="b">債権者</text>
<text x="123.5" y="291" font-size="26.8" class="b">譲渡人</text>
<text x="546.5" y="265.5" font-size="31" class="b">債務者</text>
<text x="136" y="680.5" font-size="26.6" class="b">譲受人</text>
<text x="260" y="137.5" font-size="21.5" letter-spacing="1.15" class="b">AがBに有する債権</text>
<g transform="translate(281,194) rotate(-8.3)" font-size="32" font-weight="900">
<text x="-1" y="1.4" fill="#000" stroke="#000" stroke-width="1.6" stroke-linejoin="round" aria-hidden="true">譲渡禁止付</text>
<text x="0" y="0" class="red" stroke="#000" stroke-width="0.8" stroke-linejoin="round" paint-order="stroke">譲渡禁止付</text>
</g>
<text x="249" y="287" font-size="44" font-weight="900" fill="#0cc0df" stroke="#0a7890" stroke-width="1.2" stroke-linejoin="round">譲渡</text>
<!-- bottom text -->
<text x="372" y="601" font-size="28.5" letter-spacing="1.5" class="b">原則</text>
<text x="373.5" y="638.5" font-size="21.75" class="b">譲渡禁止特約付きの債権でも譲渡可能。</text>
<text x="372" y="683" font-size="29" letter-spacing="1" class="b red">例外</text>
<text x="375.5" y="724.5" font-size="21.75" class="b">譲受人が、譲渡禁止特約であることに</text>
<text x="375" y="754.5" font-size="21.75" class="b"><tspan class="red">悪意又は有過失の時</tspan>は、債務者は</text>
<text x="615.5" y="783" font-size="21.75" class="b red">弁済を拒める。</text>
</svg>
</body>
</html>
